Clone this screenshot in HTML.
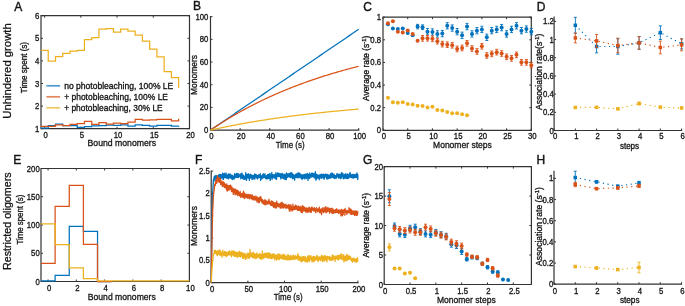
<!DOCTYPE html>
<html><head><meta charset="utf-8"><style>
html,body{margin:0;padding:0;background:#fff;}
svg{display:block;will-change:transform;}
text{font-family:"Liberation Sans", sans-serif;fill:#141414;stroke:#141414;stroke-width:0.32px;}
</style></head><body>
<svg width="685" height="306" viewBox="0 0 685 306">
<rect width="685" height="306" fill="#fff"/>
<text x="11.00" y="71.00" font-size="11.3" text-anchor="middle" style="stroke-width:0.28px" textLength="95.50" lengthAdjust="spacingAndGlyphs" transform="rotate(-90 11.00 71.00)">Unhindered growth</text>
<text x="11.00" y="221.20" font-size="11.3" text-anchor="middle" style="stroke-width:0.28px" textLength="97.50" lengthAdjust="spacingAndGlyphs" transform="rotate(-90 11.00 221.20)">Restricted oligomers</text>
<text x="14.20" y="10.50" font-size="12.0" text-anchor="start" style="stroke-width:0.4px">A</text>
<text x="192.90" y="9.60" font-size="12.0" text-anchor="start" style="stroke-width:0.4px">B</text>
<text x="363.20" y="10.50" font-size="12.0" text-anchor="start" style="stroke-width:0.4px">C</text>
<text x="536.70" y="10.50" font-size="12.0" text-anchor="start" style="stroke-width:0.4px">D</text>
<text x="13.20" y="164.00" font-size="12.0" text-anchor="start" style="stroke-width:0.4px">E</text>
<text x="195.00" y="164.00" font-size="12.0" text-anchor="start" style="stroke-width:0.4px">F</text>
<text x="362.90" y="164.00" font-size="12.0" text-anchor="start" style="stroke-width:0.4px">G</text>
<text x="536.50" y="164.00" font-size="12.0" text-anchor="start" style="stroke-width:0.4px">H</text>
<path d="M44.62 128.70v-2.0M44.62 15.70v2.0M80.84 128.70v-2.0M80.84 15.70v2.0M117.06 128.70v-2.0M117.06 15.70v2.0M153.28 128.70v-2.0M153.28 15.70v2.0M189.50 128.70v-2.0M189.50 15.70v2.0M41.00 128.70h2.0M189.50 128.70h-2.0M41.00 106.10h2.0M189.50 106.10h-2.0M41.00 83.50h2.0M189.50 83.50h-2.0M41.00 60.90h2.0M189.50 60.90h-2.0M41.00 38.30h2.0M189.50 38.30h-2.0M41.00 15.70h2.0M189.50 15.70h-2.0" fill="none" stroke="#333333" stroke-width="1"/>
<path d="M41.00 15.70V128.70H189.50V15.70H41.00" fill="none" stroke="#333333" stroke-width="1.2" stroke-linecap="square"/>
<path d="M41.00 128.01H48.24V125.51H55.49V124.20H62.73V125.71H69.98V125.71H77.22V127.31H84.46V126.61H91.71V125.84H98.95V125.51H106.20V125.21H113.44V125.39H120.68V124.81H127.93V126.07H135.17V124.81H142.41V125.39H149.66V126.00H156.90V125.39H164.15V125.39H171.39V126.20H178.63V125.84" fill="none" stroke="#0072BD" stroke-width="1.25"/>
<path d="M41.00 126.41H48.24V126.41H55.49V124.90H62.73V125.71H69.98V124.40H77.22V123.70H84.46V121.33H91.71V124.26H98.95V122.69H106.20V124.11H113.44V123.20H120.68V123.50H127.93V122.01H135.17V119.26H142.41V120.20H149.66V119.98H156.90V119.30H164.15V119.30H171.39V120.81H178.63V118.85" fill="none" stroke="#D95319" stroke-width="1.25"/>
<path d="M41.00 50.40H48.24V61.20H55.49V56.70H62.73V53.30H69.98V51.00H77.22V50.40H84.46V39.60H91.71V37.60H98.95V29.20H106.20V28.60H113.44V32.20H120.68V29.20H127.93V31.20H135.17V35.10H142.41V41.20H149.66V49.00H156.90V56.90H164.15V71.60H171.39V77.50H178.63V87.90" fill="none" stroke="#EDB120" stroke-width="1.25"/>
<text x="45.62" y="137.50" font-size="8.6" text-anchor="middle" textLength="4.30" lengthAdjust="spacingAndGlyphs">0</text>
<text x="81.84" y="137.50" font-size="8.6" text-anchor="middle" textLength="4.30" lengthAdjust="spacingAndGlyphs">5</text>
<text x="118.06" y="137.50" font-size="8.6" text-anchor="middle" textLength="8.61" lengthAdjust="spacingAndGlyphs">10</text>
<text x="154.28" y="137.50" font-size="8.6" text-anchor="middle" textLength="8.61" lengthAdjust="spacingAndGlyphs">15</text>
<text x="190.50" y="137.50" font-size="8.6" text-anchor="middle" textLength="8.61" lengthAdjust="spacingAndGlyphs">20</text>
<text x="39.30" y="131.75" font-size="8.6" text-anchor="end" textLength="4.30" lengthAdjust="spacingAndGlyphs">1</text>
<text x="39.30" y="109.15" font-size="8.6" text-anchor="end" textLength="4.30" lengthAdjust="spacingAndGlyphs">2</text>
<text x="39.30" y="86.55" font-size="8.6" text-anchor="end" textLength="4.30" lengthAdjust="spacingAndGlyphs">3</text>
<text x="39.30" y="63.95" font-size="8.6" text-anchor="end" textLength="4.30" lengthAdjust="spacingAndGlyphs">4</text>
<text x="39.30" y="41.35" font-size="8.6" text-anchor="end" textLength="4.30" lengthAdjust="spacingAndGlyphs">5</text>
<text x="39.30" y="18.75" font-size="8.6" text-anchor="end" textLength="4.30" lengthAdjust="spacingAndGlyphs">6</text>
<path d="M46.4 85.80H60.1" stroke="#0072BD" stroke-width="1.7" opacity="0.7"/>
<text x="64.20" y="89.10" font-size="9" text-anchor="start" textLength="109.10" lengthAdjust="spacingAndGlyphs">no photobleaching, 100% LE</text>
<path d="M46.4 96.80H60.1" stroke="#D95319" stroke-width="1.7" opacity="0.7"/>
<text x="64.20" y="100.10" font-size="9" text-anchor="start" textLength="103.80" lengthAdjust="spacingAndGlyphs">+ photobleaching, 100% LE</text>
<path d="M46.4 107.80H60.1" stroke="#EDB120" stroke-width="1.7" opacity="0.7"/>
<text x="64.20" y="111.10" font-size="9" text-anchor="start" textLength="98.50" lengthAdjust="spacingAndGlyphs">+ photobleaching, 30% LE</text>
<text x="121.80" y="145.80" font-size="9.9" text-anchor="middle" textLength="68.60" lengthAdjust="spacingAndGlyphs">Bound monomers</text>
<text x="26.70" y="67.60" font-size="9.2" text-anchor="middle" textLength="51.30" lengthAdjust="spacingAndGlyphs" transform="rotate(-90 26.70 67.60)">Time spent (s)</text>
<path d="M210.50 130.10v-2.0M240.14 130.10v-2.0M269.78 130.10v-2.0M299.42 130.10v-2.0M329.06 130.10v-2.0M358.70 130.10v-2.0M210.50 130.10h2.0M210.50 107.42h2.0M210.50 84.74h2.0M210.50 62.06h2.0M210.50 39.38h2.0M210.50 16.70h2.0" fill="none" stroke="#333333" stroke-width="1"/>
<path d="M210.50 16.70V130.10H358.70" fill="none" stroke="#333333" stroke-width="1.2" stroke-linecap="square"/>
<polyline points="210.50,130.10 211.24,129.59 211.99,129.09 212.73,128.58 213.48,128.07 214.22,127.57 214.97,127.06 215.71,126.55 216.46,126.05 217.20,125.54 217.95,125.03 218.69,124.53 219.44,124.02 220.18,123.51 220.93,123.01 221.67,122.50 222.42,121.99 223.16,121.49 223.91,120.98 224.65,120.47 225.39,119.97 226.14,119.46 226.88,118.95 227.63,118.45 228.37,117.94 229.12,117.44 229.86,116.93 230.61,116.42 231.35,115.92 232.10,115.41 232.84,114.90 233.59,114.40 234.33,113.89 235.08,113.38 235.82,112.88 236.57,112.37 237.31,111.86 238.05,111.36 238.80,110.85 239.54,110.34 240.29,109.84 241.03,109.33 241.78,108.82 242.52,108.32 243.27,107.81 244.01,107.30 244.76,106.80 245.50,106.29 246.25,105.78 246.99,105.28 247.74,104.77 248.48,104.26 249.23,103.76 249.97,103.25 250.72,102.74 251.46,102.24 252.20,101.73 252.95,101.22 253.69,100.72 254.44,100.21 255.18,99.70 255.93,99.20 256.67,98.69 257.42,98.18 258.16,97.68 258.91,97.17 259.65,96.66 260.40,96.16 261.14,95.65 261.89,95.14 262.63,94.64 263.38,94.13 264.12,93.63 264.86,93.12 265.61,92.61 266.35,92.11 267.10,91.60 267.84,91.09 268.59,90.59 269.33,90.08 270.08,89.57 270.82,89.07 271.57,88.56 272.31,88.05 273.06,87.55 273.80,87.04 274.55,86.53 275.29,86.03 276.04,85.52 276.78,85.01 277.53,84.51 278.27,84.00 279.01,83.49 279.76,82.99 280.50,82.48 281.25,81.97 281.99,81.47 282.74,80.96 283.48,80.45 284.23,79.95 284.97,79.44 285.72,78.93 286.46,78.43 287.21,77.92 287.95,77.41 288.70,76.91 289.44,76.40 290.19,75.89 290.93,75.39 291.67,74.88 292.42,74.37 293.16,73.87 293.91,73.36 294.65,72.85 295.40,72.35 296.14,71.84 296.89,71.33 297.63,70.83 298.38,70.32 299.12,69.82 299.87,69.31 300.61,68.80 301.36,68.30 302.10,67.79 302.85,67.28 303.59,66.78 304.34,66.27 305.08,65.76 305.82,65.26 306.57,64.75 307.31,64.24 308.06,63.74 308.80,63.23 309.55,62.72 310.29,62.22 311.04,61.71 311.78,61.20 312.53,60.70 313.27,60.19 314.02,59.68 314.76,59.18 315.51,58.67 316.25,58.16 317.00,57.66 317.74,57.15 318.48,56.64 319.23,56.14 319.97,55.63 320.72,55.12 321.46,54.62 322.21,54.11 322.95,53.60 323.70,53.10 324.44,52.59 325.19,52.08 325.93,51.58 326.68,51.07 327.42,50.56 328.17,50.06 328.91,49.55 329.66,49.04 330.40,48.54 331.15,48.03 331.89,47.52 332.63,47.02 333.38,46.51 334.12,46.01 334.87,45.50 335.61,44.99 336.36,44.49 337.10,43.98 337.85,43.47 338.59,42.97 339.34,42.46 340.08,41.95 340.83,41.45 341.57,40.94 342.32,40.43 343.06,39.93 343.81,39.42 344.55,38.91 345.29,38.41 346.04,37.90 346.78,37.39 347.53,36.89 348.27,36.38 349.02,35.87 349.76,35.37 350.51,34.86 351.25,34.35 352.00,33.85 352.74,33.34 353.49,32.83 354.23,32.33 354.98,31.82 355.72,31.31 356.47,30.81 357.21,30.30 357.96,29.79 358.70,29.29" fill="none" stroke="#0072BD" stroke-width="1.25" stroke-linejoin="round" />
<polyline points="210.50,130.10 211.24,129.59 211.99,129.09 212.73,128.59 213.48,128.09 214.22,127.60 214.97,127.10 215.71,126.61 216.46,126.12 217.20,125.64 217.95,125.15 218.69,124.67 219.44,124.19 220.18,123.72 220.93,123.24 221.67,122.77 222.42,122.30 223.16,121.84 223.91,121.37 224.65,120.91 225.39,120.45 226.14,119.99 226.88,119.54 227.63,119.08 228.37,118.63 229.12,118.18 229.86,117.74 230.61,117.29 231.35,116.85 232.10,116.41 232.84,115.98 233.59,115.54 234.33,115.11 235.08,114.68 235.82,114.25 236.57,113.82 237.31,113.40 238.05,112.98 238.80,112.56 239.54,112.14 240.29,111.72 241.03,111.31 241.78,110.90 242.52,110.49 243.27,110.08 244.01,109.67 244.76,109.27 245.50,108.87 246.25,108.47 246.99,108.07 247.74,107.68 248.48,107.28 249.23,106.89 249.97,106.50 250.72,106.11 251.46,105.73 252.20,105.34 252.95,104.96 253.69,104.58 254.44,104.21 255.18,103.83 255.93,103.45 256.67,103.08 257.42,102.71 258.16,102.34 258.91,101.98 259.65,101.61 260.40,101.25 261.14,100.89 261.89,100.53 262.63,100.17 263.38,99.81 264.12,99.46 264.86,99.11 265.61,98.76 266.35,98.41 267.10,98.06 267.84,97.72 268.59,97.37 269.33,97.03 270.08,96.69 270.82,96.35 271.57,96.02 272.31,95.68 273.06,95.35 273.80,95.02 274.55,94.69 275.29,94.36 276.04,94.03 276.78,93.71 277.53,93.38 278.27,93.06 279.01,92.74 279.76,92.42 280.50,92.10 281.25,91.79 281.99,91.47 282.74,91.16 283.48,90.85 284.23,90.54 284.97,90.24 285.72,89.93 286.46,89.62 287.21,89.32 287.95,89.02 288.70,88.72 289.44,88.42 290.19,88.12 290.93,87.83 291.67,87.54 292.42,87.24 293.16,86.95 293.91,86.66 294.65,86.37 295.40,86.09 296.14,85.80 296.89,85.52 297.63,85.24 298.38,84.95 299.12,84.67 299.87,84.40 300.61,84.12 301.36,83.84 302.10,83.57 302.85,83.30 303.59,83.03 304.34,82.76 305.08,82.49 305.82,82.22 306.57,81.95 307.31,81.69 308.06,81.43 308.80,81.17 309.55,80.90 310.29,80.65 311.04,80.39 311.78,80.13 312.53,79.87 313.27,79.62 314.02,79.37 314.76,79.12 315.51,78.87 316.25,78.62 317.00,78.37 317.74,78.12 318.48,77.88 319.23,77.63 319.97,77.39 320.72,77.15 321.46,76.91 322.21,76.67 322.95,76.43 323.70,76.19 324.44,75.96 325.19,75.72 325.93,75.49 326.68,75.26 327.42,75.03 328.17,74.80 328.91,74.57 329.66,74.34 330.40,74.11 331.15,73.89 331.89,73.67 332.63,73.44 333.38,73.22 334.12,73.00 334.87,72.78 335.61,72.56 336.36,72.34 337.10,72.13 337.85,71.91 338.59,71.70 339.34,71.48 340.08,71.27 340.83,71.06 341.57,70.85 342.32,70.64 343.06,70.43 343.81,70.23 344.55,70.02 345.29,69.82 346.04,69.61 346.78,69.41 347.53,69.21 348.27,69.01 349.02,68.81 349.76,68.61 350.51,68.41 351.25,68.22 352.00,68.02 352.74,67.83 353.49,67.63 354.23,67.44 354.98,67.25 355.72,67.06 356.47,66.87 357.21,66.68 357.96,66.49 358.70,66.30" fill="none" stroke="#D95319" stroke-width="1.25" stroke-linejoin="round" />
<polyline points="210.50,130.10 211.24,129.93 211.99,129.77 212.73,129.60 213.48,129.44 214.22,129.28 214.97,129.11 215.71,128.95 216.46,128.79 217.20,128.63 217.95,128.47 218.69,128.31 219.44,128.16 220.18,128.00 220.93,127.84 221.67,127.69 222.42,127.53 223.16,127.38 223.91,127.23 224.65,127.07 225.39,126.92 226.14,126.77 226.88,126.62 227.63,126.47 228.37,126.33 229.12,126.18 229.86,126.03 230.61,125.88 231.35,125.74 232.10,125.59 232.84,125.45 233.59,125.31 234.33,125.16 235.08,125.02 235.82,124.88 236.57,124.74 237.31,124.60 238.05,124.46 238.80,124.32 239.54,124.19 240.29,124.05 241.03,123.91 241.78,123.78 242.52,123.64 243.27,123.51 244.01,123.38 244.76,123.24 245.50,123.11 246.25,122.98 246.99,122.85 247.74,122.72 248.48,122.59 249.23,122.46 249.97,122.33 250.72,122.20 251.46,122.08 252.20,121.95 252.95,121.82 253.69,121.70 254.44,121.58 255.18,121.45 255.93,121.33 256.67,121.21 257.42,121.08 258.16,120.96 258.91,120.84 259.65,120.72 260.40,120.60 261.14,120.48 261.89,120.36 262.63,120.25 263.38,120.13 264.12,120.01 264.86,119.90 265.61,119.78 266.35,119.67 267.10,119.55 267.84,119.44 268.59,119.33 269.33,119.21 270.08,119.10 270.82,118.99 271.57,118.88 272.31,118.77 273.06,118.66 273.80,118.55 274.55,118.44 275.29,118.33 276.04,118.23 276.78,118.12 277.53,118.01 278.27,117.91 279.01,117.80 279.76,117.70 280.50,117.59 281.25,117.49 281.99,117.38 282.74,117.28 283.48,117.18 284.23,117.08 284.97,116.98 285.72,116.88 286.46,116.77 287.21,116.68 287.95,116.58 288.70,116.48 289.44,116.38 290.19,116.28 290.93,116.18 291.67,116.09 292.42,115.99 293.16,115.89 293.91,115.80 294.65,115.70 295.40,115.61 296.14,115.52 296.89,115.42 297.63,115.33 298.38,115.24 299.12,115.15 299.87,115.05 300.61,114.96 301.36,114.87 302.10,114.78 302.85,114.69 303.59,114.60 304.34,114.51 305.08,114.43 305.82,114.34 306.57,114.25 307.31,114.16 308.06,114.08 308.80,113.99 309.55,113.90 310.29,113.82 311.04,113.73 311.78,113.65 312.53,113.57 313.27,113.48 314.02,113.40 314.76,113.32 315.51,113.23 316.25,113.15 317.00,113.07 317.74,112.99 318.48,112.91 319.23,112.83 319.97,112.75 320.72,112.67 321.46,112.59 322.21,112.51 322.95,112.43 323.70,112.35 324.44,112.28 325.19,112.20 325.93,112.12 326.68,112.05 327.42,111.97 328.17,111.89 328.91,111.82 329.66,111.74 330.40,111.67 331.15,111.59 331.89,111.52 332.63,111.45 333.38,111.37 334.12,111.30 334.87,111.23 335.61,111.16 336.36,111.09 337.10,111.01 337.85,110.94 338.59,110.87 339.34,110.80 340.08,110.73 340.83,110.66 341.57,110.59 342.32,110.53 343.06,110.46 343.81,110.39 344.55,110.32 345.29,110.25 346.04,110.19 346.78,110.12 347.53,110.05 348.27,109.99 349.02,109.92 349.76,109.86 350.51,109.79 351.25,109.73 352.00,109.66 352.74,109.60 353.49,109.53 354.23,109.47 354.98,109.41 355.72,109.35 356.47,109.28 357.21,109.22 357.96,109.16 358.70,109.10" fill="none" stroke="#EDB120" stroke-width="1.25" stroke-linejoin="round" />
<text x="211.50" y="138.50" font-size="8.6" text-anchor="middle" textLength="4.30" lengthAdjust="spacingAndGlyphs">0</text>
<text x="241.14" y="138.50" font-size="8.6" text-anchor="middle" textLength="8.61" lengthAdjust="spacingAndGlyphs">20</text>
<text x="270.78" y="138.50" font-size="8.6" text-anchor="middle" textLength="8.61" lengthAdjust="spacingAndGlyphs">40</text>
<text x="300.42" y="138.50" font-size="8.6" text-anchor="middle" textLength="8.61" lengthAdjust="spacingAndGlyphs">60</text>
<text x="330.06" y="138.50" font-size="8.6" text-anchor="middle" textLength="8.61" lengthAdjust="spacingAndGlyphs">80</text>
<text x="359.70" y="138.50" font-size="8.6" text-anchor="middle" textLength="12.91" lengthAdjust="spacingAndGlyphs">100</text>
<text x="208.30" y="133.15" font-size="8.6" text-anchor="end" textLength="4.30" lengthAdjust="spacingAndGlyphs">0</text>
<text x="208.30" y="110.47" font-size="8.6" text-anchor="end" textLength="8.61" lengthAdjust="spacingAndGlyphs">20</text>
<text x="208.30" y="87.79" font-size="8.6" text-anchor="end" textLength="8.61" lengthAdjust="spacingAndGlyphs">40</text>
<text x="208.30" y="65.11" font-size="8.6" text-anchor="end" textLength="8.61" lengthAdjust="spacingAndGlyphs">60</text>
<text x="208.30" y="42.43" font-size="8.6" text-anchor="end" textLength="8.61" lengthAdjust="spacingAndGlyphs">80</text>
<text x="208.30" y="19.75" font-size="8.6" text-anchor="end" textLength="12.91" lengthAdjust="spacingAndGlyphs">100</text>
<text x="290.20" y="147.90" font-size="9.9" text-anchor="middle" textLength="29.00" lengthAdjust="spacingAndGlyphs">Time (s)</text>
<text x="197.40" y="75.00" font-size="9.2" text-anchor="middle" textLength="40.00" lengthAdjust="spacingAndGlyphs" transform="rotate(-90 197.40 75.00)">Monomers</text>
<path d="M383.00 130.30v-2.0M383.00 17.20v2.0M407.72 130.30v-2.0M407.72 17.20v2.0M432.43 130.30v-2.0M432.43 17.20v2.0M457.15 130.30v-2.0M457.15 17.20v2.0M481.87 130.30v-2.0M481.87 17.20v2.0M506.58 130.30v-2.0M506.58 17.20v2.0M531.30 130.30v-2.0M531.30 17.20v2.0M383.00 130.30h2.0M531.30 130.30h-2.0M383.00 107.68h2.0M531.30 107.68h-2.0M383.00 85.06h2.0M531.30 85.06h-2.0M383.00 62.44h2.0M531.30 62.44h-2.0M383.00 39.82h2.0M531.30 39.82h-2.0M383.00 17.20h2.0M531.30 17.20h-2.0" fill="none" stroke="#333333" stroke-width="1"/>
<path d="M383.00 17.20V130.30H531.30V17.20H383.00" fill="none" stroke="#333333" stroke-width="1.2" stroke-linecap="square"/>
<path d="M417.60 24.33V28.85M416.10 24.33h3.0M416.10 28.85h3.0M422.55 24.89V29.41M421.05 24.89h3.0M421.05 29.41h3.0M427.49 28.51V34.84M425.99 28.51h3.0M425.99 34.84h3.0M432.43 28.85V35.18M430.93 28.85h3.0M430.93 35.18h3.0M437.38 30.77V37.11M435.88 30.77h3.0M435.88 37.11h3.0M442.32 30.43V36.77M440.82 30.43h3.0M440.82 36.77h3.0M447.26 22.63V28.96M445.76 22.63h3.0M445.76 28.96h3.0M452.21 24.89V31.22M450.71 24.89h3.0M450.71 31.22h3.0M457.15 28.51V34.84M455.65 28.51h3.0M455.65 34.84h3.0M462.09 32.13V38.46M460.59 32.13h3.0M460.59 38.46h3.0M467.04 23.42V29.75M465.54 23.42h3.0M465.54 29.75h3.0M471.98 30.77V37.11M470.48 30.77h3.0M470.48 37.11h3.0M476.92 27.49V33.83M475.42 27.49h3.0M475.42 33.83h3.0M481.87 26.25V32.58M480.37 26.25h3.0M480.37 32.58h3.0M486.81 34.17V40.50M485.31 34.17h3.0M485.31 40.50h3.0M491.75 27.49V33.83M490.25 27.49h3.0M490.25 33.83h3.0M496.70 26.25V32.58M495.20 26.25h3.0M495.20 32.58h3.0M501.64 24.44V30.77M500.14 24.44h3.0M500.14 30.77h3.0M506.58 30.77V37.11M505.08 30.77h3.0M505.08 37.11h3.0M511.53 26.25V32.58M510.03 26.25h3.0M510.03 32.58h3.0M516.47 22.63V28.96M514.97 22.63h3.0M514.97 28.96h3.0M521.41 27.49V33.83M519.91 27.49h3.0M519.91 33.83h3.0M526.36 25.91V32.24M524.86 25.91h3.0M524.86 32.24h3.0M531.30 28.51V34.84M529.80 28.51h3.0M529.80 34.84h3.0" fill="none" stroke="#0072BD" stroke-width="0.9"/>
<circle cx="387.94" cy="24.21" r="2.0" fill="#0072BD"/>
<circle cx="392.89" cy="28.51" r="2.0" fill="#0072BD"/>
<circle cx="397.83" cy="29.08" r="2.0" fill="#0072BD"/>
<circle cx="402.77" cy="28.51" r="2.0" fill="#0072BD"/>
<circle cx="407.72" cy="32.92" r="2.0" fill="#0072BD"/>
<circle cx="412.66" cy="35.30" r="2.0" fill="#0072BD"/>
<circle cx="417.60" cy="26.59" r="2.0" fill="#0072BD"/>
<circle cx="422.55" cy="27.15" r="2.0" fill="#0072BD"/>
<circle cx="427.49" cy="31.68" r="2.0" fill="#0072BD"/>
<circle cx="432.43" cy="32.02" r="2.0" fill="#0072BD"/>
<circle cx="437.38" cy="33.94" r="2.0" fill="#0072BD"/>
<circle cx="442.32" cy="33.60" r="2.0" fill="#0072BD"/>
<circle cx="447.26" cy="25.80" r="2.0" fill="#0072BD"/>
<circle cx="452.21" cy="28.06" r="2.0" fill="#0072BD"/>
<circle cx="457.15" cy="31.68" r="2.0" fill="#0072BD"/>
<circle cx="462.09" cy="35.30" r="2.0" fill="#0072BD"/>
<circle cx="467.04" cy="26.59" r="2.0" fill="#0072BD"/>
<circle cx="471.98" cy="33.94" r="2.0" fill="#0072BD"/>
<circle cx="476.92" cy="30.66" r="2.0" fill="#0072BD"/>
<circle cx="481.87" cy="29.41" r="2.0" fill="#0072BD"/>
<circle cx="486.81" cy="37.33" r="2.0" fill="#0072BD"/>
<circle cx="491.75" cy="30.66" r="2.0" fill="#0072BD"/>
<circle cx="496.70" cy="29.41" r="2.0" fill="#0072BD"/>
<circle cx="501.64" cy="27.61" r="2.0" fill="#0072BD"/>
<circle cx="506.58" cy="33.94" r="2.0" fill="#0072BD"/>
<circle cx="511.53" cy="29.41" r="2.0" fill="#0072BD"/>
<circle cx="516.47" cy="25.80" r="2.0" fill="#0072BD"/>
<circle cx="521.41" cy="30.66" r="2.0" fill="#0072BD"/>
<circle cx="526.36" cy="29.08" r="2.0" fill="#0072BD"/>
<circle cx="531.30" cy="31.68" r="2.0" fill="#0072BD"/>
<path d="M422.55 35.52V41.18M421.05 35.52h3.0M421.05 41.18h3.0M427.49 35.41V41.06M425.99 35.41h3.0M425.99 41.06h3.0M432.43 35.97V41.63M430.93 35.97h3.0M430.93 41.63h3.0M437.38 38.35V44.00M435.88 38.35h3.0M435.88 44.00h3.0M442.32 41.29V46.95M440.82 41.29h3.0M440.82 46.95h3.0M447.26 41.86V47.51M445.76 41.86h3.0M445.76 47.51h3.0M452.21 42.42V48.08M450.71 42.42h3.0M450.71 48.08h3.0M457.15 46.15V51.81M455.65 46.15h3.0M455.65 51.81h3.0M462.09 45.14V50.79M460.59 45.14h3.0M460.59 50.79h3.0M467.04 40.50V46.15M465.54 40.50h3.0M465.54 46.15h3.0M471.98 45.70V51.36M470.48 45.70h3.0M470.48 51.36h3.0M476.92 48.64V54.30M475.42 48.64h3.0M475.42 54.30h3.0M481.87 43.44V49.09M480.37 43.44h3.0M480.37 49.09h3.0M486.81 52.60V58.26M485.31 52.60h3.0M485.31 58.26h3.0M491.75 51.02V56.67M490.25 51.02h3.0M490.25 56.67h3.0M496.70 49.32V54.98M495.20 49.32h3.0M495.20 54.98h3.0M501.64 50.68V56.33M500.14 50.68h3.0M500.14 56.33h3.0M506.58 53.96V59.61M505.08 53.96h3.0M505.08 59.61h3.0M511.53 55.54V61.20M510.03 55.54h3.0M510.03 61.20h3.0M516.47 52.03V57.69M514.97 52.03h3.0M514.97 57.69h3.0M521.41 59.50V65.15M519.91 59.50h3.0M519.91 65.15h3.0M526.36 59.50V65.15M524.86 59.50h3.0M524.86 65.15h3.0M531.30 62.33V67.98M529.80 62.33h3.0M529.80 67.98h3.0" fill="none" stroke="#D95319" stroke-width="0.9"/>
<circle cx="387.94" cy="23.19" r="2.0" fill="#D95319"/>
<circle cx="392.89" cy="21.27" r="2.0" fill="#D95319"/>
<circle cx="397.83" cy="31.68" r="2.0" fill="#D95319"/>
<circle cx="402.77" cy="32.47" r="2.0" fill="#D95319"/>
<circle cx="407.72" cy="30.43" r="2.0" fill="#D95319"/>
<circle cx="412.66" cy="33.94" r="2.0" fill="#D95319"/>
<circle cx="417.60" cy="40.84" r="2.0" fill="#D95319"/>
<circle cx="422.55" cy="38.35" r="2.0" fill="#D95319"/>
<circle cx="427.49" cy="38.24" r="2.0" fill="#D95319"/>
<circle cx="432.43" cy="38.80" r="2.0" fill="#D95319"/>
<circle cx="437.38" cy="41.18" r="2.0" fill="#D95319"/>
<circle cx="442.32" cy="44.12" r="2.0" fill="#D95319"/>
<circle cx="447.26" cy="44.68" r="2.0" fill="#D95319"/>
<circle cx="452.21" cy="45.25" r="2.0" fill="#D95319"/>
<circle cx="457.15" cy="48.98" r="2.0" fill="#D95319"/>
<circle cx="462.09" cy="47.96" r="2.0" fill="#D95319"/>
<circle cx="467.04" cy="43.33" r="2.0" fill="#D95319"/>
<circle cx="471.98" cy="48.53" r="2.0" fill="#D95319"/>
<circle cx="476.92" cy="51.47" r="2.0" fill="#D95319"/>
<circle cx="481.87" cy="46.27" r="2.0" fill="#D95319"/>
<circle cx="486.81" cy="55.43" r="2.0" fill="#D95319"/>
<circle cx="491.75" cy="53.84" r="2.0" fill="#D95319"/>
<circle cx="496.70" cy="52.15" r="2.0" fill="#D95319"/>
<circle cx="501.64" cy="53.51" r="2.0" fill="#D95319"/>
<circle cx="506.58" cy="56.78" r="2.0" fill="#D95319"/>
<circle cx="511.53" cy="58.37" r="2.0" fill="#D95319"/>
<circle cx="516.47" cy="54.86" r="2.0" fill="#D95319"/>
<circle cx="521.41" cy="62.33" r="2.0" fill="#D95319"/>
<circle cx="526.36" cy="62.33" r="2.0" fill="#D95319"/>
<circle cx="531.30" cy="65.15" r="2.0" fill="#D95319"/>
<circle cx="387.94" cy="97.84" r="2.0" fill="#EDB120"/>
<circle cx="392.89" cy="102.36" r="2.0" fill="#EDB120"/>
<circle cx="397.83" cy="102.70" r="2.0" fill="#EDB120"/>
<circle cx="402.77" cy="102.14" r="2.0" fill="#EDB120"/>
<circle cx="407.72" cy="103.95" r="2.0" fill="#EDB120"/>
<circle cx="412.66" cy="104.40" r="2.0" fill="#EDB120"/>
<circle cx="417.60" cy="105.87" r="2.0" fill="#EDB120"/>
<circle cx="422.55" cy="105.98" r="2.0" fill="#EDB120"/>
<circle cx="427.49" cy="107.57" r="2.0" fill="#EDB120"/>
<circle cx="432.43" cy="106.66" r="2.0" fill="#EDB120"/>
<circle cx="437.38" cy="110.06" r="2.0" fill="#EDB120"/>
<circle cx="442.32" cy="110.39" r="2.0" fill="#EDB120"/>
<circle cx="447.26" cy="112.09" r="2.0" fill="#EDB120"/>
<circle cx="452.21" cy="113.22" r="2.0" fill="#EDB120"/>
<circle cx="457.15" cy="113.22" r="2.0" fill="#EDB120"/>
<circle cx="462.09" cy="114.13" r="2.0" fill="#EDB120"/>
<circle cx="467.04" cy="115.26" r="2.0" fill="#EDB120"/>
<text x="384.00" y="139.20" font-size="8.6" text-anchor="middle" textLength="4.30" lengthAdjust="spacingAndGlyphs">0</text>
<text x="408.72" y="139.20" font-size="8.6" text-anchor="middle" textLength="4.30" lengthAdjust="spacingAndGlyphs">5</text>
<text x="433.43" y="139.20" font-size="8.6" text-anchor="middle" textLength="8.61" lengthAdjust="spacingAndGlyphs">10</text>
<text x="458.15" y="139.20" font-size="8.6" text-anchor="middle" textLength="8.61" lengthAdjust="spacingAndGlyphs">15</text>
<text x="482.87" y="139.20" font-size="8.6" text-anchor="middle" textLength="8.61" lengthAdjust="spacingAndGlyphs">20</text>
<text x="507.58" y="139.20" font-size="8.6" text-anchor="middle" textLength="8.61" lengthAdjust="spacingAndGlyphs">25</text>
<text x="532.30" y="139.20" font-size="8.6" text-anchor="middle" textLength="8.61" lengthAdjust="spacingAndGlyphs">30</text>
<text x="381.10" y="133.35" font-size="8.6" text-anchor="end" textLength="4.30" lengthAdjust="spacingAndGlyphs">0</text>
<text x="381.10" y="110.73" font-size="8.6" text-anchor="end" textLength="10.76" lengthAdjust="spacingAndGlyphs">0.2</text>
<text x="381.10" y="88.11" font-size="8.6" text-anchor="end" textLength="10.76" lengthAdjust="spacingAndGlyphs">0.4</text>
<text x="381.10" y="65.49" font-size="8.6" text-anchor="end" textLength="10.76" lengthAdjust="spacingAndGlyphs">0.6</text>
<text x="381.10" y="42.87" font-size="8.6" text-anchor="end" textLength="10.76" lengthAdjust="spacingAndGlyphs">0.8</text>
<text x="381.10" y="20.25" font-size="8.6" text-anchor="end" textLength="4.30" lengthAdjust="spacingAndGlyphs">1</text>
<text x="462.40" y="147.80" font-size="9.9" text-anchor="middle" textLength="58.70" lengthAdjust="spacingAndGlyphs">Monomer steps</text>
<text x="369.10" y="68.30" font-size="8.4" text-anchor="middle" transform="rotate(-90 369.10 68.30)">Average rate (s<tspan dy="-3.2" font-size="6">-1</tspan><tspan dy="3.2">)</tspan></text>
<path d="M554.10 130.50v-2.0M575.35 130.50v-2.0M596.60 130.50v-2.0M617.85 130.50v-2.0M639.10 130.50v-2.0M660.35 130.50v-2.0M681.60 130.50v-2.0M554.10 130.50h2.0M554.10 112.32h2.0M554.10 94.13h2.0M554.10 75.95h2.0M554.10 57.77h2.0M554.10 39.58h2.0M554.10 21.40h2.0" fill="none" stroke="#333333" stroke-width="1"/>
<path d="M554.10 21.40V130.50H681.60" fill="none" stroke="#333333" stroke-width="1.2" stroke-linecap="square"/>
<polyline points="575.35,25.31 596.60,46.49 617.85,46.49 639.10,42.86 660.35,32.67 681.60,43.86" fill="none" stroke="#0072BD" stroke-width="1.2" stroke-linejoin="round" stroke-dasharray="1.2 3.5"/>
<polyline points="575.35,37.95 596.60,40.95 617.85,45.49 639.10,42.86 660.35,47.49 681.60,44.86" fill="none" stroke="#D95319" stroke-width="1.2" stroke-linejoin="round" stroke-dasharray="1.2 3.5"/>
<polyline points="575.35,107.50 596.60,107.32 617.85,108.86 639.10,103.50 660.35,107.13 681.60,107.95" fill="none" stroke="#EDB120" stroke-width="1.2" stroke-linejoin="round" stroke-dasharray="1.2 3.5"/>
<path d="M575.35 17.31V33.31M573.85 17.31h3.0M573.85 33.31h3.0M596.60 40.13V52.86M595.10 40.13h3.0M595.10 52.86h3.0M617.85 38.77V54.22M616.35 38.77h3.0M616.35 54.22h3.0M639.10 36.49V49.22M637.60 36.49h3.0M637.60 49.22h3.0M660.35 25.85V39.49M658.85 25.85h3.0M658.85 39.49h3.0M681.60 38.86V48.86M680.10 38.86h3.0M680.10 48.86h3.0" fill="none" stroke="#0072BD" stroke-width="0.9"/>
<rect x="573.60" y="23.56" width="3.50" height="3.50" fill="#0072BD"/>
<rect x="594.85" y="44.74" width="3.50" height="3.50" fill="#0072BD"/>
<rect x="616.10" y="44.74" width="3.50" height="3.50" fill="#0072BD"/>
<rect x="637.35" y="41.11" width="3.50" height="3.50" fill="#0072BD"/>
<rect x="658.60" y="30.92" width="3.50" height="3.50" fill="#0072BD"/>
<rect x="679.85" y="42.11" width="3.50" height="3.50" fill="#0072BD"/>
<path d="M575.35 33.04V42.86M573.85 33.04h3.0M573.85 42.86h3.0M596.60 34.58V47.31M595.10 34.58h3.0M595.10 47.31h3.0M617.85 38.22V52.77M616.35 38.22h3.0M616.35 52.77h3.0M639.10 36.49V49.22M637.60 36.49h3.0M637.60 49.22h3.0M660.35 41.13V53.86M658.85 41.13h3.0M658.85 53.86h3.0M681.60 38.95V50.77M680.10 38.95h3.0M680.10 50.77h3.0" fill="none" stroke="#D95319" stroke-width="0.9"/>
<rect x="573.60" y="36.20" width="3.50" height="3.50" fill="#D95319"/>
<rect x="594.85" y="39.20" width="3.50" height="3.50" fill="#D95319"/>
<rect x="616.10" y="43.74" width="3.50" height="3.50" fill="#D95319"/>
<rect x="637.35" y="41.11" width="3.50" height="3.50" fill="#D95319"/>
<rect x="658.60" y="45.74" width="3.50" height="3.50" fill="#D95319"/>
<rect x="679.85" y="43.11" width="3.50" height="3.50" fill="#D95319"/>
<path d="M575.35 106.59V108.41M573.85 106.59h3.0M573.85 108.41h3.0M596.60 106.59V108.04M595.10 106.59h3.0M595.10 108.04h3.0M617.85 108.13V109.59M616.35 108.13h3.0M616.35 109.59h3.0M639.10 102.13V104.86M637.60 102.13h3.0M637.60 104.86h3.0M660.35 106.41V107.86M658.85 106.41h3.0M658.85 107.86h3.0M681.60 107.23V108.68M680.10 107.23h3.0M680.10 108.68h3.0" fill="none" stroke="#EDB120" stroke-width="0.9"/>
<rect x="573.60" y="105.75" width="3.50" height="3.50" fill="#EDB120"/>
<rect x="594.85" y="105.57" width="3.50" height="3.50" fill="#EDB120"/>
<rect x="616.10" y="107.11" width="3.50" height="3.50" fill="#EDB120"/>
<rect x="637.35" y="101.75" width="3.50" height="3.50" fill="#EDB120"/>
<rect x="658.60" y="105.38" width="3.50" height="3.50" fill="#EDB120"/>
<rect x="679.85" y="106.20" width="3.50" height="3.50" fill="#EDB120"/>
<path d="M554.10 16.49V21.40" stroke="#333333" stroke-width="1.2"/>
<text x="555.10" y="139.10" font-size="8.6" text-anchor="middle" textLength="4.30" lengthAdjust="spacingAndGlyphs">0</text>
<text x="576.35" y="139.10" font-size="8.6" text-anchor="middle" textLength="4.30" lengthAdjust="spacingAndGlyphs">1</text>
<text x="597.60" y="139.10" font-size="8.6" text-anchor="middle" textLength="4.30" lengthAdjust="spacingAndGlyphs">2</text>
<text x="618.85" y="139.10" font-size="8.6" text-anchor="middle" textLength="4.30" lengthAdjust="spacingAndGlyphs">3</text>
<text x="640.10" y="139.10" font-size="8.6" text-anchor="middle" textLength="4.30" lengthAdjust="spacingAndGlyphs">4</text>
<text x="661.35" y="139.10" font-size="8.6" text-anchor="middle" textLength="4.30" lengthAdjust="spacingAndGlyphs">5</text>
<text x="682.60" y="139.10" font-size="8.6" text-anchor="middle" textLength="4.30" lengthAdjust="spacingAndGlyphs">6</text>
<text x="553.70" y="133.55" font-size="8.6" text-anchor="end" textLength="4.30" lengthAdjust="spacingAndGlyphs">0</text>
<text x="553.70" y="115.37" font-size="8.6" text-anchor="end" textLength="10.76" lengthAdjust="spacingAndGlyphs">0.2</text>
<text x="553.70" y="97.18" font-size="8.6" text-anchor="end" textLength="10.76" lengthAdjust="spacingAndGlyphs">0.4</text>
<text x="553.70" y="79.00" font-size="8.6" text-anchor="end" textLength="10.76" lengthAdjust="spacingAndGlyphs">0.6</text>
<text x="553.70" y="60.82" font-size="8.6" text-anchor="end" textLength="10.76" lengthAdjust="spacingAndGlyphs">0.8</text>
<text x="553.70" y="42.63" font-size="8.6" text-anchor="end" textLength="4.30" lengthAdjust="spacingAndGlyphs">1</text>
<text x="553.70" y="24.45" font-size="8.6" text-anchor="end" textLength="10.76" lengthAdjust="spacingAndGlyphs">1.2</text>
<text x="629.50" y="148.50" font-size="9" text-anchor="middle" textLength="19.20" lengthAdjust="spacingAndGlyphs">steps</text>
<text x="541.80" y="71.80" font-size="8.6" text-anchor="middle" transform="rotate(-90 541.80 71.80)">Association rate(s<tspan dy="-3.2" font-size="6">-1</tspan><tspan dy="3.2">)</tspan></text>
<path d="M48.07 281.50v-2.0M48.07 168.50v2.0M76.33 281.50v-2.0M76.33 168.50v2.0M104.60 281.50v-2.0M104.60 168.50v2.0M132.87 281.50v-2.0M132.87 168.50v2.0M161.13 281.50v-2.0M161.13 168.50v2.0M189.40 281.50v-2.0M189.40 168.50v2.0M41.00 281.50h2.0M189.40 281.50h-2.0M41.00 253.25h2.0M189.40 253.25h-2.0M41.00 225.00h2.0M189.40 225.00h-2.0M41.00 196.75h2.0M189.40 196.75h-2.0M41.00 168.50h2.0M189.40 168.50h-2.0" fill="none" stroke="#333333" stroke-width="1"/>
<path d="M41.00 168.50V281.50H189.40V168.50H41.00" fill="none" stroke="#333333" stroke-width="1.2" stroke-linecap="square"/>
<path d="M41.00 280.94H55.13V275.40H69.27V226.30H83.40V231.33H97.53V281.50H111.67V281.50" fill="none" stroke="#0072BD" stroke-width="1.25"/>
<path d="M41.00 263.31H55.13V206.36H69.27V185.45H83.40V244.38H97.53V281.50H111.67V281.50" fill="none" stroke="#D95319" stroke-width="1.25"/>
<path d="M41.00 223.81H55.13V244.61H69.27V267.88H83.40V278.62H97.53V280.77H111.67V280.77H125.80V280.77H139.93V280.77H154.07V280.77H168.20V280.77H182.33V280.77H189.40V280.77" fill="none" stroke="#EDB120" stroke-width="1.25"/>
<text x="49.07" y="291.00" font-size="8.6" text-anchor="middle" textLength="4.30" lengthAdjust="spacingAndGlyphs">0</text>
<text x="77.33" y="291.00" font-size="8.6" text-anchor="middle" textLength="4.30" lengthAdjust="spacingAndGlyphs">2</text>
<text x="105.60" y="291.00" font-size="8.6" text-anchor="middle" textLength="4.30" lengthAdjust="spacingAndGlyphs">4</text>
<text x="133.87" y="291.00" font-size="8.6" text-anchor="middle" textLength="4.30" lengthAdjust="spacingAndGlyphs">6</text>
<text x="162.13" y="291.00" font-size="8.6" text-anchor="middle" textLength="4.30" lengthAdjust="spacingAndGlyphs">8</text>
<text x="190.40" y="291.00" font-size="8.6" text-anchor="middle" textLength="8.61" lengthAdjust="spacingAndGlyphs">10</text>
<text x="39.70" y="284.55" font-size="8.6" text-anchor="end" textLength="4.30" lengthAdjust="spacingAndGlyphs">0</text>
<text x="39.70" y="256.30" font-size="8.6" text-anchor="end" textLength="8.61" lengthAdjust="spacingAndGlyphs">50</text>
<text x="39.70" y="228.05" font-size="8.6" text-anchor="end" textLength="12.91" lengthAdjust="spacingAndGlyphs">100</text>
<text x="39.70" y="199.80" font-size="8.6" text-anchor="end" textLength="12.91" lengthAdjust="spacingAndGlyphs">150</text>
<text x="39.70" y="171.55" font-size="8.6" text-anchor="end" textLength="12.91" lengthAdjust="spacingAndGlyphs">200</text>
<text x="121.80" y="300.00" font-size="9.9" text-anchor="middle" textLength="68.00" lengthAdjust="spacingAndGlyphs">Bound monomers</text>
<text x="23.30" y="219.60" font-size="9.2" text-anchor="middle" textLength="50.00" lengthAdjust="spacingAndGlyphs" transform="rotate(-90 23.30 219.60)">Time spent (s)</text>
<path d="M211.20 282.60v-2.0M247.88 282.60v-2.0M284.55 282.60v-2.0M321.23 282.60v-2.0M357.90 282.60v-2.0M211.20 282.60h2.0M211.20 260.30h2.0M211.20 238.00h2.0M211.20 215.70h2.0M211.20 193.40h2.0M211.20 171.10h2.0" fill="none" stroke="#333333" stroke-width="1"/>
<path d="M211.20 171.10V282.60H357.90" fill="none" stroke="#333333" stroke-width="1.2" stroke-linecap="square"/>
<polyline points="211.20,282.14 211.30,275.72 211.41,267.29 211.51,259.90 211.62,252.19 211.72,244.47 211.83,237.30 211.93,229.18 212.04,224.25 212.14,218.02 212.25,213.75 212.35,208.81 212.46,203.70 212.56,198.70 212.67,193.74 212.77,191.63 212.88,189.44 212.98,187.72 213.09,185.49 213.19,183.86 213.30,181.84 213.40,179.56 213.51,179.52 213.61,179.49 213.72,179.08 213.82,178.63 213.93,177.99 214.03,178.25 214.14,178.16 214.24,176.43 214.35,178.77 214.45,177.81 214.56,176.28 214.66,176.73 214.77,177.33 214.87,176.51 214.97,181.13 215.08,175.93 215.18,178.35 215.29,179.29 215.39,176.65 215.50,176.33 215.60,177.83 215.71,178.71 215.81,177.26 215.92,177.40 216.02,175.41 216.13,176.35 216.23,177.04 216.34,175.92 216.44,177.51 216.55,178.43 216.65,176.55 216.76,176.48 216.86,177.46 216.97,177.99 217.07,176.49 217.18,179.94 217.28,175.76 217.39,176.08 217.49,179.00 217.60,176.95 217.70,178.46 217.81,176.33 217.91,180.21 218.02,178.65 218.12,176.31 218.23,175.85 218.33,180.22 218.44,177.87 218.54,176.88 218.65,177.94 218.75,174.97 218.85,178.66 218.96,176.58 219.06,178.56 219.17,175.13 219.27,176.97 219.38,177.22 219.48,179.04 219.59,174.41 219.69,175.71 219.80,175.66 219.90,175.10 220.01,176.18 220.11,177.48 220.22,177.48 220.32,177.22 220.43,174.33 220.53,178.11 220.64,177.01 220.74,176.67 220.85,175.90 220.95,175.26 221.06,177.78 221.16,178.59 221.27,176.40 221.37,174.73 221.48,175.40 221.58,176.23 221.69,176.74 221.79,176.06 221.90,176.80 222.00,175.46 222.11,177.61 222.21,176.48 222.32,176.70 222.42,175.87 222.52,176.09 222.63,173.05 222.73,174.48 222.84,174.33 222.94,179.14 223.05,176.70 223.15,177.01 223.26,175.62 223.36,179.36 223.47,174.66 223.57,174.95 223.68,178.19 223.78,177.42 223.89,177.02 223.99,175.96 224.10,175.17 224.20,173.15 224.31,176.41 224.41,175.20 224.52,175.83 224.62,173.56 224.73,174.91 224.83,174.12 224.94,177.58 225.04,176.53 225.15,177.47 225.25,174.44 225.36,175.46 225.46,176.99 225.57,177.17 225.67,175.82 225.78,177.18 225.88,177.48 225.99,175.47 226.09,172.94 226.20,176.59 226.30,176.97 226.40,177.72 226.51,178.11 226.61,175.58 226.72,175.20 226.82,176.54 226.93,176.01 227.03,175.99 227.14,176.13 227.24,178.44 227.35,176.94 227.45,176.28 227.56,177.26 227.66,176.56 227.77,176.89 227.87,175.96 227.98,174.51 228.08,176.19 228.19,175.96 228.29,174.95 228.40,175.44 228.50,173.91 228.61,178.93 228.71,174.95 228.82,176.60 228.92,175.94 229.03,175.17 229.13,174.88 229.24,175.16 229.34,176.35 229.45,174.27 229.55,176.83 229.66,176.84 229.76,175.67 229.87,177.54 229.97,174.06 230.07,175.49 230.18,174.18 230.28,177.26 230.39,177.84 230.49,177.12 230.60,176.20 230.70,177.90 230.81,176.59 230.91,177.22 231.02,174.95 231.12,177.96 231.23,175.65 231.33,178.11 231.44,178.69 231.54,178.26 231.65,178.97 231.75,177.07 231.86,175.72 231.96,176.93 232.07,176.33 232.17,175.10 232.28,176.97 232.38,177.06 232.49,177.58 232.59,179.47 232.70,176.35 232.80,179.52 232.91,176.32 233.01,177.18 233.12,175.84 233.22,177.50 233.33,178.44 233.43,176.57 233.54,177.54 233.64,176.89 233.75,176.73 233.85,177.12 233.95,176.78 234.06,177.50 234.16,176.46 234.27,178.89 234.37,176.05 234.48,177.20 234.58,174.13 234.69,173.74 234.79,177.84 234.90,174.89 235.00,175.17 235.11,176.42 235.21,174.25 235.32,175.63 235.42,177.53 235.53,175.48 235.63,175.31 235.74,174.83 235.84,176.62 235.95,174.30 236.05,174.54 236.16,177.08 236.26,176.56 236.37,175.74 236.47,176.26 236.58,173.34 236.68,175.47 236.79,177.47 236.89,177.19 237.00,176.43 237.10,173.59 237.21,176.77 237.31,176.65 237.42,176.23 237.52,176.82 237.62,173.63 237.73,177.37 237.83,175.47 237.94,176.11 238.04,175.40 238.15,177.60 238.25,173.76 238.36,176.29 238.46,176.14 238.57,177.41 238.67,177.20 238.78,175.70 238.88,174.99 238.99,175.19 239.09,174.77 239.20,175.42 239.30,176.25 239.41,175.04 239.51,175.24 239.62,176.27 239.72,175.16 239.83,174.73 239.93,175.88 240.04,176.61 240.14,175.20 240.25,173.80 240.35,176.68 240.46,176.59 240.56,176.70 240.67,174.69 240.77,178.79 240.88,175.69 240.98,174.70 241.09,177.27 241.19,174.02 241.29,175.00 241.40,176.20 241.50,175.29 241.61,177.86 241.71,176.50 241.82,173.13 241.92,176.93 242.03,173.16 242.13,175.83 242.24,174.42 242.34,175.64 242.45,178.59 242.55,176.57 242.66,175.69 242.76,177.74 242.87,177.95 242.97,175.72 243.08,177.11 243.18,178.77 243.29,177.46 243.39,175.65 243.50,177.69 243.60,175.83 243.71,175.09 243.81,177.33 243.92,178.98 244.02,179.32 244.13,177.60 244.23,176.38 244.34,177.17 244.44,176.93 244.55,178.17 244.65,177.06 244.76,178.17 244.86,177.96 244.97,179.21 245.07,179.40 245.17,177.88 245.28,178.55 245.38,178.03 245.49,175.77 245.59,176.74 245.70,172.70 245.80,174.99 245.91,177.24 246.01,175.40 246.12,175.98 246.22,177.25 246.33,174.82 246.43,177.39 246.54,180.47 246.64,175.21 246.75,177.04 246.85,174.29 246.96,177.23 247.06,177.89 247.17,174.28 247.27,177.96 247.38,176.30 247.48,174.64 247.59,176.46 247.69,176.70 247.80,176.59 247.90,175.61 248.01,177.94 248.11,176.05 248.22,176.04 248.32,173.72 248.43,177.29 248.53,178.13 248.64,175.65 248.74,177.09 248.84,176.30 248.95,176.67 249.05,175.16 249.16,177.58 249.26,176.96 249.37,180.39 249.47,177.96 249.58,174.58 249.68,177.67 249.79,177.52 249.89,178.26 250.00,175.90 250.10,176.42 250.21,178.19 250.31,175.90 250.42,176.44 250.52,175.66 250.63,177.47 250.73,174.17 250.84,176.19 250.94,176.84 251.05,177.43 251.15,176.97 251.26,175.85 251.36,177.34 251.47,175.64 251.57,176.34 251.68,175.05 251.78,175.65 251.89,176.90 251.99,179.49 252.10,176.55 252.20,176.05 252.31,176.79 252.41,176.45 252.52,177.75 252.62,177.50 252.72,178.24 252.83,175.41 252.93,176.98 253.04,177.78 253.14,179.06 253.25,177.66 253.35,175.66 253.46,176.77 253.56,178.45 253.67,175.51 253.77,175.32 253.88,175.72 253.98,175.92 254.09,175.14 254.19,175.77 254.30,175.65 254.40,177.82 254.51,174.69 254.61,176.36 254.72,173.94 254.82,179.20 254.93,175.68 255.03,175.26 255.14,176.99 255.24,175.99 255.35,175.57 255.45,175.64 255.56,177.21 255.66,176.62 255.77,175.07 255.87,174.51 255.98,175.98 256.08,176.10 256.19,175.84 256.29,174.69 256.39,177.53 256.50,177.91 256.60,176.00 256.71,177.91 256.81,177.32 256.92,176.45 257.02,175.98 257.13,177.81 257.23,175.37 257.34,178.90 257.44,175.87 257.55,178.56 257.65,177.98 257.76,175.57 257.86,177.01 257.97,177.44 258.07,176.92 258.18,175.54 258.28,176.31 258.39,176.13 258.49,175.00 258.60,177.52 258.70,177.02 258.81,176.91 258.91,174.73 259.02,175.21 259.12,174.92 259.23,176.76 259.33,176.90 259.44,175.55 259.54,177.08 259.65,175.34 259.75,175.73 259.86,177.52 259.96,176.80 260.07,176.77 260.17,174.54 260.27,173.54 260.38,177.14 260.48,177.02 260.59,180.25 260.69,176.83 260.80,177.09 260.90,178.16 261.01,175.89 261.11,179.04 261.22,177.11 261.32,176.73 261.43,178.79 261.53,176.26 261.64,175.76 261.74,178.89 261.85,178.79 261.95,176.04 262.06,176.79 262.16,178.55 262.27,177.34 262.37,177.04 262.48,176.88 262.58,175.51 262.69,176.26 262.79,174.10 262.90,174.63 263.00,175.42 263.11,174.81 263.21,174.23 263.32,175.22 263.42,177.75 263.53,175.04 263.63,175.95 263.74,173.85 263.84,176.07 263.94,175.54 264.05,175.90 264.15,174.05 264.26,176.28 264.36,177.05 264.47,176.23 264.57,177.32 264.68,176.42 264.78,176.67 264.89,176.29 264.99,173.99 265.10,177.21 265.20,176.50 265.31,176.88 265.41,176.06 265.52,178.58 265.62,178.10 265.73,177.26 265.83,176.48 265.94,177.23 266.04,177.94 266.15,178.75 266.25,176.98 266.36,175.67 266.46,177.21 266.57,177.38 266.67,177.02 266.78,178.69 266.88,177.82 266.99,177.55 267.09,176.80 267.20,177.09 267.30,178.85 267.41,175.60 267.51,174.71 267.62,177.29 267.72,176.41 267.82,176.63 267.93,175.67 268.03,178.64 268.14,174.42 268.24,177.12 268.35,174.61 268.45,176.33 268.56,176.95 268.66,176.66 268.77,175.15 268.87,177.40 268.98,176.55 269.08,176.66 269.19,178.37 269.29,173.83 269.40,174.72 269.50,175.47 269.61,173.92 269.71,177.11 269.82,175.75 269.92,173.31 270.03,174.49 270.13,178.79 270.24,180.44 270.34,177.48 270.45,174.64 270.55,176.80 270.66,176.34 270.76,175.29 270.87,177.33 270.97,176.13 271.08,175.21 271.18,175.50 271.29,175.43 271.39,176.73 271.49,175.35 271.60,176.79 271.70,174.43 271.81,172.51 271.91,177.39 272.02,179.36 272.12,177.01 272.23,176.13 272.33,174.76 272.44,174.92 272.54,177.51 272.65,177.36 272.75,174.81 272.86,177.90 272.96,174.97 273.07,176.73 273.17,175.43 273.28,175.60 273.38,175.40 273.49,175.18 273.59,177.57 273.70,175.90 273.80,176.37 273.91,175.83 274.01,174.71 274.12,176.60 274.22,177.18 274.33,177.05 274.43,176.69 274.54,175.21 274.64,177.30 274.75,174.78 274.85,176.01 274.96,176.89 275.06,178.38 275.16,176.18 275.27,175.53 275.37,178.74 275.48,174.67 275.58,173.96 275.69,175.76 275.79,175.47 275.90,172.70 276.00,174.39 276.11,177.24 276.21,176.02 276.32,176.31 276.42,176.33 276.53,179.39 276.63,175.17 276.74,177.03 276.84,175.75 276.95,175.99 277.05,174.61 277.16,176.06 277.26,176.71 277.37,174.73 277.47,173.26 277.58,175.51 277.68,173.11 277.79,174.58 277.89,175.73 278.00,172.93 278.10,176.13 278.21,173.54 278.31,175.54 278.42,174.27 278.52,176.44 278.63,175.99 278.73,173.48 278.84,174.51 278.94,174.65 279.04,175.39 279.15,174.19 279.25,176.61 279.36,176.43 279.46,175.14 279.57,176.39 279.67,176.21 279.78,175.54 279.88,175.68 279.99,175.81 280.09,173.45 280.20,174.39 280.30,174.19 280.41,175.99 280.51,176.49 280.62,177.76 280.72,176.36 280.83,178.88 280.93,176.94 281.04,175.20 281.14,174.24 281.25,174.90 281.35,177.57 281.46,176.03 281.56,177.77 281.67,175.70 281.77,177.06 281.88,175.82 281.98,173.37 282.09,175.72 282.19,173.58 282.30,176.36 282.40,176.85 282.51,174.58 282.61,174.01 282.71,176.92 282.82,176.13 282.92,178.26 283.03,176.63 283.13,175.24 283.24,176.80 283.34,177.40 283.45,178.53 283.55,176.04 283.66,175.46 283.76,175.76 283.87,176.34 283.97,178.36 284.08,174.05 284.18,176.41 284.29,176.53 284.39,175.26 284.50,179.08 284.60,176.31 284.71,176.59 284.81,175.98 284.92,174.71 285.02,176.00 285.13,179.24 285.23,177.27 285.34,176.46 285.44,176.44 285.55,178.12 285.65,178.57 285.76,175.64 285.86,175.63 285.97,176.12 286.07,178.04 286.18,173.39 286.28,179.71 286.39,176.16 286.49,172.98 286.59,175.72 286.70,175.14 286.80,177.12 286.91,173.57 287.01,177.29 287.12,175.19 287.22,175.43 287.33,176.69 287.43,174.09 287.54,177.25 287.64,176.40 287.75,175.22 287.85,175.67 287.96,174.56 288.06,173.97 288.17,175.68 288.27,175.99 288.38,175.78 288.48,175.59 288.59,174.17 288.69,175.89 288.80,175.35 288.90,175.89 289.01,176.90 289.11,174.32 289.22,176.69 289.32,175.44 289.43,173.36 289.53,176.68 289.64,175.11 289.74,177.22 289.85,175.63 289.95,177.07 290.06,175.48 290.16,175.70 290.26,174.68 290.37,172.99 290.47,174.90 290.58,174.53 290.68,175.53 290.79,175.75 290.89,176.45 291.00,177.80 291.10,175.21 291.21,172.92 291.31,174.51 291.42,175.54 291.52,172.57 291.63,175.57 291.73,176.11 291.84,177.21 291.94,176.91 292.05,176.03 292.15,173.22 292.26,176.21 292.36,177.39 292.47,176.92 292.57,176.51 292.68,178.74 292.78,176.17 292.89,175.38 292.99,175.79 293.10,175.41 293.20,177.79 293.31,178.25 293.41,174.32 293.52,174.81 293.62,178.38 293.73,176.09 293.83,176.38 293.94,175.54 294.04,176.04 294.14,177.09 294.25,176.13 294.35,176.07 294.46,176.22 294.56,178.59 294.67,180.19 294.77,176.96 294.88,178.07 294.98,175.45 295.09,174.86 295.19,175.69 295.30,176.58 295.40,176.12 295.51,174.52 295.61,177.32 295.72,175.15 295.82,175.31 295.93,175.90 296.03,174.25 296.14,176.85 296.24,174.72 296.35,177.31 296.45,177.04 296.56,177.37 296.66,175.48 296.77,177.19 296.87,175.94 296.98,177.59 297.08,174.37 297.19,173.33 297.29,175.31 297.40,173.70 297.50,175.25 297.61,173.13 297.71,175.89 297.81,177.79 297.92,173.38 298.02,175.42 298.13,176.61 298.23,175.95 298.34,177.03 298.44,175.21 298.55,176.35 298.65,173.01 298.76,174.25 298.86,177.21 298.97,176.92 299.07,175.72 299.18,177.69 299.28,175.17 299.39,175.19 299.49,175.91 299.60,175.60 299.70,174.54 299.81,173.22 299.91,173.30 300.02,175.06 300.12,173.93 300.23,176.01 300.33,174.67 300.44,176.74 300.54,174.76 300.65,177.55 300.75,177.46 300.86,176.09 300.96,175.48 301.07,178.24 301.17,177.38 301.28,176.30 301.38,176.19 301.48,177.70 301.59,176.59 301.69,177.09 301.80,174.72 301.90,175.83 302.01,178.30 302.11,179.57 302.22,176.24 302.32,174.96 302.43,176.41 302.53,175.26 302.64,177.21 302.74,178.43 302.85,175.78 302.95,176.29 303.06,175.54 303.16,178.15 303.27,175.98 303.37,176.86 303.48,174.84 303.58,176.78 303.69,176.87 303.79,176.67 303.90,174.51 304.00,176.06 304.11,177.21 304.21,177.48 304.32,177.63 304.42,174.35 304.53,178.82 304.63,177.64 304.74,175.74 304.84,175.12 304.95,176.77 305.05,175.72 305.16,175.79 305.26,175.50 305.36,176.80 305.47,174.22 305.57,176.28 305.68,174.44 305.78,178.08 305.89,175.33 305.99,178.38 306.10,178.73 306.20,175.88 306.31,177.65 306.41,175.91 306.52,177.70 306.62,174.24 306.73,176.39 306.83,177.84 306.94,175.93 307.04,175.13 307.15,177.33 307.25,175.64 307.36,173.50 307.46,175.25 307.57,176.22 307.67,176.81 307.78,175.45 307.88,178.20 307.99,180.37 308.09,177.56 308.20,178.04 308.30,174.26 308.41,176.43 308.51,177.86 308.62,178.03 308.72,175.92 308.83,177.78 308.93,177.44 309.03,176.75 309.14,176.59 309.24,176.28 309.35,176.16 309.45,174.69 309.56,174.20 309.66,178.54 309.77,172.96 309.87,176.28 309.98,174.62 310.08,177.34 310.19,176.10 310.29,176.05 310.40,175.92 310.50,175.05 310.61,174.97 310.71,177.09 310.82,175.80 310.92,174.48 311.03,174.48 311.13,175.88 311.24,175.79 311.34,175.70 311.45,176.78 311.55,176.99 311.66,173.08 311.76,175.74 311.87,175.51 311.97,176.81 312.08,174.04 312.18,173.36 312.29,175.83 312.39,174.69 312.50,176.34 312.60,173.24 312.71,174.23 312.81,176.50 312.91,174.03 313.02,175.24 313.12,174.95 313.23,174.94 313.33,176.37 313.44,176.36 313.54,174.85 313.65,175.86 313.75,177.22 313.86,173.39 313.96,176.26 314.07,176.90 314.17,176.92 314.28,175.22 314.38,174.93 314.49,175.68 314.59,174.69 314.70,177.79 314.80,176.22 314.91,176.59 315.01,175.88 315.12,175.31 315.22,178.56 315.33,171.57 315.43,176.96 315.54,175.10 315.64,174.72 315.75,174.87 315.85,175.91 315.96,180.16 316.06,177.81 316.17,175.10 316.27,177.19 316.38,177.37 316.48,179.12 316.58,174.25 316.69,175.53 316.79,177.59 316.90,176.48 317.00,176.36 317.11,177.72 317.21,176.75 317.32,176.12 317.42,175.85 317.53,174.85 317.63,176.58 317.74,177.15 317.84,175.91 317.95,177.39 318.05,178.29 318.16,175.14 318.26,177.08 318.37,176.51 318.47,176.02 318.58,178.40 318.68,175.96 318.79,176.54 318.89,177.35 319.00,176.33 319.10,177.66 319.21,179.77 319.31,176.99 319.42,177.67 319.52,175.43 319.63,176.06 319.73,177.12 319.84,176.11 319.94,174.44 320.05,174.64 320.15,175.85 320.26,175.81 320.36,176.65 320.46,176.50 320.57,175.69 320.67,176.52 320.78,175.88 320.88,177.75 320.99,178.41 321.09,178.29 321.20,176.53 321.30,174.10 321.41,174.18 321.51,176.95 321.62,177.92 321.72,175.02 321.83,175.42 321.93,177.60 322.04,174.60 322.14,175.68 322.25,174.34 322.35,175.80 322.46,175.19 322.56,175.79 322.67,177.51 322.77,176.32 322.88,176.80 322.98,175.05 323.09,177.49 323.19,177.98 323.30,175.10 323.40,174.53 323.51,174.21 323.61,174.49 323.72,178.02 323.82,177.03 323.93,176.93 324.03,176.33 324.13,179.30 324.24,176.34 324.34,175.85 324.45,177.49 324.55,176.05 324.66,174.64 324.76,176.17 324.87,174.62 324.97,174.43 325.08,175.03 325.18,175.23 325.29,176.25 325.39,174.15 325.50,176.58 325.60,176.79 325.71,175.15 325.81,177.07 325.92,175.43 326.02,174.69 326.13,175.83 326.23,175.97 326.34,174.91 326.44,175.25 326.55,178.20 326.65,177.76 326.76,174.25 326.86,175.70 326.97,179.12 327.07,178.10 327.18,176.49 327.28,177.64 327.39,175.72 327.49,176.50 327.60,176.25 327.70,178.66 327.81,176.36 327.91,174.60 328.01,178.19 328.12,175.45 328.22,175.75 328.33,176.04 328.43,176.97 328.54,178.57 328.64,178.08 328.75,175.91 328.85,175.38 328.96,174.87 329.06,174.90 329.17,175.21 329.27,177.04 329.38,178.10 329.48,176.17 329.59,175.61 329.69,176.11 329.80,178.19 329.90,176.88 330.01,178.18 330.11,175.72 330.22,177.24 330.32,176.09 330.43,175.12 330.53,175.41 330.64,173.76 330.74,176.84 330.85,178.14 330.95,173.84 331.06,173.44 331.16,173.33 331.27,174.83 331.37,174.45 331.48,175.15 331.58,176.92 331.68,175.89 331.79,174.45 331.89,175.98 332.00,172.80 332.10,177.23 332.21,175.79 332.31,173.84 332.42,176.36 332.52,177.13 332.63,177.39 332.73,176.73 332.84,173.69 332.94,175.24 333.05,175.04 333.15,176.47 333.26,174.89 333.36,176.03 333.47,177.65 333.57,177.16 333.68,176.16 333.78,174.99 333.89,176.70 333.99,176.01 334.10,174.17 334.20,177.94 334.31,178.49 334.41,175.59 334.52,176.31 334.62,176.72 334.73,176.29 334.83,176.90 334.94,175.95 335.04,177.06 335.15,175.55 335.25,178.19 335.35,177.79 335.46,176.46 335.56,177.14 335.67,175.72 335.77,176.78 335.88,177.29 335.98,176.22 336.09,177.22 336.19,178.45 336.30,177.89 336.40,177.18 336.51,176.77 336.61,175.87 336.72,174.47 336.82,175.23 336.93,173.72 337.03,174.17 337.14,176.18 337.24,173.73 337.35,174.43 337.45,176.88 337.56,175.65 337.66,174.39 337.77,175.48 337.87,174.57 337.98,175.11 338.08,174.83 338.19,176.20 338.29,175.22 338.40,175.99 338.50,174.80 338.61,177.99 338.71,175.25 338.82,174.17 338.92,174.96 339.03,175.85 339.13,175.01 339.23,177.00 339.34,177.04 339.44,176.19 339.55,176.12 339.65,174.43 339.76,176.87 339.86,174.32 339.97,177.98 340.07,176.89 340.18,176.01 340.28,174.39 340.39,176.64 340.49,178.61 340.60,175.36 340.70,175.81 340.81,177.34 340.91,177.46 341.02,177.15 341.12,175.81 341.23,175.01 341.33,177.99 341.44,172.88 341.54,176.00 341.65,176.36 341.75,175.03 341.86,175.76 341.96,172.67 342.07,174.49 342.17,176.29 342.28,176.49 342.38,176.62 342.49,176.49 342.59,175.02 342.70,176.81 342.80,173.57 342.90,175.99 343.01,176.27 343.11,174.83 343.22,178.75 343.32,177.36 343.43,175.12 343.53,175.66 343.64,175.74 343.74,175.30 343.85,176.83 343.95,176.10 344.06,177.68 344.16,178.49 344.27,174.52 344.37,177.51 344.48,177.42 344.58,174.74 344.69,174.97 344.79,177.17 344.90,177.07 345.00,176.43 345.11,177.75 345.21,175.63 345.32,176.02 345.42,176.09 345.53,175.25 345.63,175.03 345.74,173.53 345.84,173.89 345.95,178.18 346.05,174.88 346.16,177.96 346.26,178.43 346.37,175.58 346.47,177.26 346.58,176.95 346.68,175.23 346.78,177.33 346.89,177.74 346.99,175.96 347.10,174.57 347.20,175.49 347.31,178.63 347.41,177.27 347.52,176.92 347.62,173.99 347.73,175.32 347.83,175.40 347.94,175.10 348.04,177.15 348.15,176.23 348.25,176.36 348.36,178.23 348.46,177.02 348.57,176.14 348.67,178.22 348.78,175.42 348.88,175.26 348.99,174.67 349.09,177.19 349.20,175.86 349.30,174.01 349.41,174.99 349.51,176.89 349.62,175.50 349.72,173.91 349.83,176.04 349.93,175.29 350.04,172.35 350.14,175.93 350.25,176.02 350.35,177.19 350.45,176.80 350.56,173.82 350.66,176.03 350.77,177.42 350.87,177.13 350.98,175.80 351.08,174.67 351.19,176.72 351.29,174.87 351.40,176.57 351.50,175.38 351.61,175.20 351.71,175.01 351.82,176.47 351.92,176.29 352.03,175.30 352.13,177.89 352.24,175.97 352.34,175.44 352.45,174.34 352.55,175.76 352.66,176.01 352.76,175.29 352.87,176.54 352.97,175.64 353.08,174.70 353.18,174.97 353.29,176.93 353.39,175.79 353.50,178.22 353.60,174.31 353.71,176.34 353.81,175.41 353.92,177.21 354.02,175.92 354.13,175.14 354.23,174.56 354.33,177.71 354.44,174.58 354.54,175.81 354.65,176.81 354.75,175.04 354.86,175.91 354.96,175.97 355.07,176.78 355.17,175.44 355.28,175.69 355.38,176.04 355.49,177.31 355.59,176.80 355.70,175.62 355.80,174.41 355.91,175.81 356.01,174.10 356.12,175.89 356.22,177.63 356.33,175.31 356.43,177.48 356.54,175.44 356.64,174.58 356.75,176.60 356.85,176.32 356.96,172.88 357.06,175.94 357.17,175.82 357.27,175.09 357.38,176.20 357.48,176.40 357.59,175.80 357.69,179.57 357.80,174.60 357.90,177.90" fill="none" stroke="#0072BD" stroke-width="1.3" stroke-linejoin="round" />
<polyline points="211.20,282.82 211.30,277.15 211.41,270.50 211.51,265.17 211.62,259.49 211.72,253.29 211.83,248.04 211.93,242.97 212.04,238.07 212.14,233.80 212.25,228.46 212.35,224.97 212.46,220.03 212.56,215.77 212.67,211.29 212.77,208.95 212.88,206.73 212.98,204.62 213.09,202.54 213.19,200.16 213.30,198.02 213.40,195.80 213.51,194.69 213.61,193.90 213.72,192.89 213.82,192.28 213.93,190.83 214.03,190.73 214.14,191.03 214.24,187.34 214.35,188.68 214.45,186.70 214.56,184.96 214.66,186.00 214.77,186.03 214.87,183.80 214.97,184.07 215.08,184.99 215.18,185.27 215.29,183.85 215.39,185.23 215.50,183.59 215.60,183.54 215.71,181.39 215.81,180.46 215.92,182.15 216.02,181.66 216.13,182.42 216.23,182.80 216.34,181.21 216.44,179.65 216.55,179.59 216.65,179.28 216.76,180.29 216.86,183.35 216.97,178.27 217.07,177.69 217.18,178.14 217.28,178.07 217.39,177.81 217.49,175.73 217.60,179.11 217.70,177.17 217.81,178.25 217.91,178.48 218.02,179.53 218.12,180.19 218.23,181.24 218.33,179.00 218.44,180.38 218.54,181.62 218.65,181.19 218.75,181.72 218.85,177.98 218.96,180.69 219.06,180.34 219.17,182.28 219.27,182.06 219.38,179.23 219.48,181.18 219.59,180.74 219.69,178.45 219.80,178.24 219.90,180.31 220.01,180.59 220.11,180.80 220.22,181.44 220.32,178.48 220.43,183.17 220.53,181.74 220.64,184.54 220.74,183.66 220.85,181.55 220.95,181.45 221.06,181.86 221.16,182.86 221.27,183.49 221.37,183.45 221.48,183.44 221.58,181.38 221.69,180.86 221.79,182.36 221.90,183.96 222.00,184.88 222.11,183.27 222.21,184.10 222.32,186.41 222.42,182.09 222.52,184.09 222.63,184.69 222.73,185.69 222.84,185.93 222.94,183.55 223.05,185.98 223.15,184.41 223.26,183.56 223.36,181.86 223.47,183.66 223.57,184.85 223.68,185.45 223.78,183.71 223.89,183.54 223.99,185.53 224.10,183.98 224.20,185.25 224.31,187.42 224.41,186.63 224.52,184.12 224.62,183.00 224.73,184.30 224.83,185.52 224.94,186.31 225.04,184.52 225.15,184.94 225.25,187.72 225.36,184.38 225.46,186.28 225.57,184.56 225.67,185.00 225.78,185.01 225.88,185.02 225.99,185.76 226.09,188.33 226.20,188.42 226.30,185.42 226.40,186.47 226.51,189.36 226.61,189.99 226.72,185.84 226.82,183.95 226.93,185.83 227.03,187.41 227.14,186.78 227.24,191.19 227.35,188.76 227.45,185.96 227.56,186.08 227.66,190.19 227.77,185.59 227.87,186.59 227.98,186.26 228.08,187.91 228.19,187.45 228.29,188.97 228.40,186.94 228.50,186.03 228.61,188.51 228.71,186.66 228.82,187.61 228.92,185.74 229.03,185.67 229.13,190.27 229.24,186.29 229.34,185.59 229.45,187.91 229.55,187.78 229.66,187.62 229.76,189.15 229.87,187.99 229.97,185.47 230.07,187.02 230.18,185.71 230.28,186.72 230.39,186.44 230.49,187.86 230.60,186.91 230.70,185.11 230.81,186.11 230.91,187.78 231.02,189.40 231.12,189.52 231.23,188.04 231.33,187.95 231.44,191.51 231.54,188.67 231.65,188.44 231.75,188.66 231.86,190.27 231.96,186.79 232.07,188.44 232.17,191.57 232.28,190.89 232.38,188.74 232.49,188.90 232.59,189.49 232.70,189.86 232.80,190.36 232.91,190.70 233.01,191.78 233.12,189.62 233.22,194.35 233.33,191.67 233.43,188.96 233.54,191.97 233.64,192.41 233.75,188.30 233.85,189.69 233.95,191.37 234.06,191.84 234.16,191.43 234.27,191.63 234.37,191.53 234.48,192.00 234.58,190.08 234.69,191.96 234.79,193.70 234.90,192.79 235.00,191.11 235.11,192.49 235.21,194.82 235.32,189.25 235.42,190.61 235.53,192.14 235.63,192.02 235.74,190.59 235.84,189.50 235.95,192.52 236.05,190.99 236.16,192.51 236.26,191.23 236.37,193.47 236.47,194.33 236.58,191.75 236.68,192.06 236.79,190.83 236.89,192.88 237.00,190.24 237.10,192.23 237.21,190.46 237.31,193.11 237.42,190.51 237.52,192.96 237.62,192.80 237.73,191.85 237.83,195.68 237.94,194.86 238.04,190.77 238.15,195.38 238.25,194.14 238.36,192.67 238.46,191.42 238.57,194.06 238.67,193.32 238.78,195.12 238.88,194.04 238.99,192.20 239.09,193.24 239.20,193.83 239.30,193.32 239.41,194.09 239.51,194.32 239.62,195.01 239.72,195.78 239.83,193.57 239.93,196.17 240.04,193.39 240.14,191.89 240.25,192.72 240.35,191.69 240.46,196.35 240.56,194.65 240.67,196.08 240.77,196.00 240.88,197.40 240.98,197.04 241.09,194.10 241.19,194.46 241.29,193.79 241.40,193.91 241.50,194.57 241.61,196.73 241.71,195.93 241.82,194.80 241.92,194.05 242.03,196.17 242.13,196.25 242.24,196.06 242.34,193.21 242.45,194.51 242.55,195.84 242.66,196.35 242.76,194.73 242.87,197.54 242.97,195.46 243.08,196.03 243.18,195.98 243.29,194.99 243.39,194.67 243.50,191.13 243.60,195.08 243.71,194.34 243.81,196.44 243.92,197.58 244.02,193.68 244.13,192.62 244.23,196.72 244.34,195.26 244.44,193.58 244.55,194.93 244.65,198.57 244.76,193.98 244.86,195.74 244.97,194.71 245.07,196.89 245.17,194.23 245.28,194.04 245.38,196.42 245.49,194.98 245.59,196.78 245.70,196.59 245.80,197.21 245.91,196.61 246.01,196.97 246.12,194.39 246.22,196.23 246.33,197.57 246.43,194.06 246.54,195.25 246.64,194.61 246.75,196.02 246.85,195.02 246.96,196.22 247.06,197.41 247.17,195.80 247.27,195.43 247.38,195.50 247.48,194.64 247.59,198.23 247.69,195.71 247.80,197.15 247.90,196.53 248.01,195.58 248.11,195.92 248.22,196.72 248.32,194.69 248.43,195.76 248.53,194.71 248.64,194.45 248.74,196.78 248.84,198.07 248.95,196.37 249.05,195.17 249.16,196.01 249.26,198.16 249.37,198.79 249.47,197.69 249.58,197.70 249.68,195.58 249.79,196.53 249.89,195.70 250.00,196.91 250.10,194.40 250.21,196.67 250.31,195.89 250.42,197.39 250.52,196.20 250.63,195.41 250.73,196.08 250.84,195.80 250.94,198.48 251.05,197.18 251.15,195.24 251.26,197.31 251.36,197.97 251.47,197.81 251.57,198.22 251.68,197.71 251.78,195.96 251.89,197.40 251.99,198.21 252.10,199.13 252.20,199.55 252.31,194.81 252.41,198.75 252.52,197.98 252.62,198.86 252.72,198.12 252.83,198.94 252.93,198.04 253.04,196.19 253.14,199.22 253.25,197.40 253.35,198.05 253.46,196.83 253.56,198.73 253.67,197.29 253.77,199.18 253.88,200.22 253.98,199.36 254.09,199.06 254.19,199.59 254.30,198.46 254.40,196.46 254.51,199.38 254.61,197.31 254.72,197.92 254.82,199.15 254.93,199.34 255.03,197.56 255.14,197.54 255.24,198.80 255.35,198.14 255.45,198.07 255.56,199.93 255.66,198.04 255.77,197.99 255.87,195.96 255.98,200.18 256.08,199.71 256.19,198.36 256.29,199.35 256.39,199.24 256.50,198.87 256.60,199.39 256.71,198.96 256.81,198.27 256.92,201.19 257.02,198.42 257.13,202.14 257.23,196.95 257.34,198.14 257.44,200.21 257.55,198.09 257.65,199.70 257.76,198.90 257.86,198.39 257.97,199.26 258.07,199.70 258.18,199.14 258.28,200.23 258.39,200.55 258.49,201.31 258.60,202.55 258.70,197.87 258.81,199.03 258.91,202.01 259.02,199.54 259.12,199.66 259.23,202.70 259.33,200.89 259.44,199.86 259.54,197.04 259.65,197.68 259.75,197.56 259.86,198.78 259.96,197.55 260.07,200.45 260.17,197.96 260.27,197.86 260.38,200.59 260.48,198.71 260.59,197.00 260.69,196.54 260.80,197.01 260.90,200.17 261.01,199.10 261.11,199.95 261.22,197.86 261.32,200.87 261.43,201.16 261.53,201.74 261.64,199.74 261.74,199.61 261.85,201.24 261.95,201.71 262.06,201.06 262.16,199.41 262.27,203.18 262.37,201.63 262.48,201.28 262.58,201.39 262.69,200.36 262.79,201.10 262.90,201.75 263.00,200.11 263.11,200.31 263.21,201.77 263.32,201.90 263.42,203.83 263.53,201.87 263.63,203.52 263.74,203.93 263.84,202.58 263.94,204.18 264.05,203.15 264.15,202.77 264.26,201.49 264.36,202.19 264.47,201.58 264.57,199.97 264.68,201.03 264.78,203.77 264.89,204.55 264.99,203.28 265.10,203.07 265.20,204.63 265.31,204.42 265.41,204.38 265.52,203.08 265.62,200.34 265.73,200.12 265.83,203.73 265.94,202.97 266.04,204.26 266.15,204.63 266.25,202.34 266.36,202.30 266.46,203.22 266.57,201.73 266.67,202.83 266.78,201.18 266.88,203.35 266.99,201.66 267.09,202.67 267.20,202.25 267.30,201.33 267.41,203.59 267.51,203.17 267.62,202.24 267.72,202.66 267.82,201.87 267.93,203.44 268.03,204.20 268.14,202.59 268.24,202.05 268.35,203.56 268.45,200.90 268.56,201.43 268.66,201.12 268.77,201.10 268.87,203.29 268.98,199.17 269.08,202.95 269.19,201.67 269.29,201.63 269.40,201.99 269.50,202.31 269.61,203.57 269.71,203.33 269.82,202.66 269.92,201.25 270.03,204.25 270.13,202.31 270.24,202.79 270.34,203.17 270.45,203.95 270.55,203.24 270.66,205.32 270.76,202.95 270.87,202.96 270.97,204.25 271.08,202.66 271.18,203.19 271.29,204.78 271.39,202.85 271.49,204.76 271.60,200.81 271.70,205.37 271.81,205.13 271.91,204.84 272.02,203.73 272.12,202.42 272.23,203.95 272.33,204.42 272.44,201.38 272.54,202.54 272.65,204.25 272.75,204.03 272.86,206.01 272.96,203.96 273.07,201.86 273.17,205.71 273.28,206.16 273.38,203.95 273.49,207.23 273.59,202.28 273.70,206.08 273.80,205.14 273.91,204.37 274.01,202.71 274.12,203.70 274.22,207.05 274.33,206.69 274.43,204.06 274.54,207.22 274.64,204.66 274.75,205.51 274.85,203.40 274.96,202.85 275.06,207.90 275.16,203.87 275.27,203.56 275.37,205.45 275.48,205.01 275.58,205.97 275.69,204.83 275.79,203.76 275.90,202.57 276.00,202.66 276.11,205.04 276.21,205.36 276.32,202.91 276.42,208.02 276.53,206.21 276.63,203.25 276.74,201.26 276.84,205.12 276.95,204.25 277.05,205.99 277.16,204.34 277.26,204.55 277.37,205.30 277.47,203.78 277.58,204.82 277.68,204.00 277.79,205.17 277.89,206.55 278.00,204.80 278.10,203.80 278.21,206.22 278.31,203.46 278.42,204.84 278.52,205.87 278.63,205.37 278.73,205.90 278.84,206.92 278.94,204.84 279.04,204.67 279.15,206.50 279.25,206.19 279.36,206.34 279.46,205.12 279.57,203.89 279.67,206.68 279.78,205.47 279.88,205.92 279.99,205.17 280.09,203.88 280.20,206.68 280.30,208.21 280.41,205.60 280.51,207.42 280.62,203.11 280.72,206.32 280.83,205.56 280.93,204.60 281.04,204.62 281.14,205.63 281.25,204.94 281.35,203.68 281.46,205.39 281.56,202.33 281.67,204.36 281.77,208.21 281.88,203.93 281.98,207.39 282.09,204.70 282.19,202.30 282.30,204.00 282.40,207.16 282.51,206.74 282.61,205.62 282.71,203.75 282.82,206.95 282.92,204.43 283.03,205.46 283.13,206.25 283.24,206.19 283.34,203.67 283.45,208.05 283.55,207.76 283.66,205.03 283.76,204.89 283.87,207.87 283.97,207.43 284.08,207.67 284.18,205.60 284.29,207.21 284.39,204.34 284.50,205.33 284.60,206.05 284.71,205.99 284.81,205.51 284.92,205.02 285.02,205.88 285.13,205.60 285.23,204.81 285.34,206.14 285.44,204.58 285.55,206.40 285.65,207.34 285.76,206.00 285.86,204.16 285.97,204.51 286.07,208.55 286.18,205.89 286.28,206.83 286.39,206.51 286.49,206.59 286.59,206.45 286.70,206.65 286.80,206.16 286.91,205.66 287.01,207.67 287.12,207.77 287.22,207.68 287.33,207.75 287.43,205.42 287.54,207.63 287.64,206.50 287.75,206.40 287.85,205.52 287.96,206.57 288.06,205.41 288.17,206.91 288.27,206.61 288.38,205.63 288.48,208.62 288.59,206.17 288.69,204.59 288.80,206.65 288.90,207.38 289.01,204.55 289.11,206.96 289.22,205.63 289.32,210.77 289.43,207.39 289.53,208.22 289.64,206.92 289.74,205.68 289.85,207.44 289.95,207.72 290.06,211.30 290.16,206.67 290.26,205.95 290.37,207.64 290.47,208.68 290.58,207.38 290.68,206.30 290.79,206.66 290.89,204.75 291.00,208.38 291.10,209.39 291.21,207.06 291.31,206.27 291.42,208.53 291.52,207.94 291.63,208.91 291.73,209.92 291.84,209.20 291.94,210.96 292.05,208.17 292.15,207.66 292.26,207.28 292.36,209.51 292.47,209.21 292.57,210.51 292.68,210.02 292.78,207.00 292.89,204.19 292.99,209.18 293.10,208.31 293.20,206.60 293.31,208.84 293.41,207.26 293.52,208.21 293.62,208.43 293.73,206.75 293.83,208.28 293.94,209.64 294.04,206.89 294.14,207.97 294.25,208.57 294.35,208.83 294.46,206.80 294.56,208.46 294.67,207.13 294.77,206.09 294.88,207.33 294.98,205.99 295.09,209.44 295.19,206.90 295.30,207.20 295.40,205.23 295.51,207.77 295.61,206.56 295.72,207.87 295.82,209.09 295.93,208.84 296.03,208.43 296.14,206.56 296.24,208.64 296.35,207.67 296.45,206.54 296.56,206.12 296.66,206.59 296.77,205.75 296.87,209.41 296.98,208.45 297.08,207.42 297.19,206.54 297.29,207.31 297.40,208.90 297.50,208.39 297.61,210.36 297.71,206.87 297.81,210.33 297.92,207.79 298.02,206.54 298.13,206.90 298.23,210.36 298.34,207.87 298.44,208.63 298.55,208.71 298.65,206.08 298.76,207.90 298.86,210.21 298.97,209.59 299.07,207.19 299.18,207.67 299.28,209.50 299.39,210.28 299.49,208.68 299.60,208.73 299.70,207.16 299.81,208.95 299.91,207.42 300.02,206.98 300.12,210.81 300.23,209.26 300.33,206.51 300.44,209.07 300.54,208.45 300.65,207.26 300.75,209.61 300.86,209.18 300.96,211.14 301.07,208.00 301.17,209.37 301.28,209.27 301.38,212.43 301.48,207.56 301.59,208.22 301.69,210.07 301.80,207.53 301.90,212.43 302.01,209.30 302.11,211.44 302.22,205.55 302.32,212.73 302.43,210.98 302.53,210.30 302.64,208.07 302.74,207.95 302.85,208.65 302.95,209.36 303.06,206.25 303.16,209.96 303.27,208.70 303.37,206.61 303.48,210.56 303.58,209.99 303.69,207.64 303.79,208.77 303.90,211.12 304.00,209.36 304.11,207.02 304.21,209.65 304.32,208.58 304.42,209.37 304.53,210.48 304.63,207.44 304.74,208.33 304.84,207.90 304.95,209.71 305.05,209.23 305.16,209.19 305.26,209.05 305.36,210.09 305.47,210.26 305.57,208.16 305.68,211.62 305.78,210.70 305.89,210.67 305.99,211.05 306.10,212.10 306.20,211.50 306.31,209.41 306.41,210.71 306.52,211.30 306.62,207.88 306.73,211.88 306.83,208.75 306.94,209.51 307.04,211.95 307.15,210.58 307.25,210.42 307.36,208.21 307.46,208.78 307.57,210.34 307.67,211.62 307.78,212.42 307.88,210.24 307.99,211.94 308.09,210.48 308.20,210.40 308.30,209.27 308.41,208.61 308.51,209.52 308.62,209.23 308.72,210.10 308.83,208.15 308.93,208.36 309.03,207.26 309.14,207.61 309.24,210.71 309.35,211.67 309.45,208.85 309.56,208.09 309.66,210.29 309.77,207.45 309.87,209.32 309.98,209.89 310.08,209.31 310.19,211.66 310.29,211.84 310.40,209.76 310.50,210.76 310.61,209.09 310.71,209.02 310.82,212.43 310.92,210.29 311.03,208.42 311.13,212.28 311.24,209.42 311.34,210.93 311.45,212.08 311.55,207.67 311.66,207.62 311.76,209.63 311.87,209.57 311.97,207.01 312.08,207.34 312.18,209.04 312.29,208.27 312.39,209.44 312.50,210.04 312.60,208.51 312.71,209.85 312.81,208.34 312.91,209.60 313.02,210.05 313.12,210.37 313.23,208.94 313.33,208.35 313.44,208.82 313.54,210.67 313.65,208.62 313.75,210.70 313.86,210.83 313.96,209.54 314.07,208.16 314.17,208.66 314.28,208.90 314.38,207.67 314.49,208.60 314.59,210.35 314.70,208.83 314.80,210.24 314.91,209.11 315.01,208.72 315.12,209.61 315.22,211.78 315.33,209.93 315.43,210.57 315.54,210.33 315.64,210.87 315.75,211.79 315.85,212.64 315.96,209.47 316.06,209.48 316.17,209.87 316.27,210.41 316.38,207.70 316.48,209.62 316.58,210.29 316.69,209.07 316.79,210.17 316.90,209.21 317.00,210.13 317.11,209.56 317.21,210.17 317.32,210.94 317.42,209.78 317.53,209.00 317.63,211.78 317.74,211.22 317.84,211.65 317.95,209.14 318.05,210.26 318.16,208.90 318.26,211.15 318.37,209.08 318.47,210.95 318.58,210.89 318.68,209.60 318.79,210.74 318.89,211.19 319.00,209.21 319.10,210.57 319.21,208.95 319.31,207.21 319.42,211.36 319.52,211.34 319.63,212.65 319.73,212.13 319.84,209.93 319.94,210.32 320.05,210.32 320.15,210.05 320.26,211.58 320.36,212.91 320.46,209.46 320.57,210.41 320.67,209.21 320.78,210.45 320.88,209.31 320.99,210.88 321.09,210.33 321.20,210.51 321.30,209.90 321.41,208.86 321.51,209.91 321.62,214.63 321.72,210.68 321.83,210.56 321.93,209.63 322.04,210.43 322.14,211.36 322.25,211.45 322.35,210.84 322.46,211.06 322.56,208.22 322.67,209.57 322.77,210.36 322.88,209.21 322.98,207.55 323.09,210.65 323.19,210.67 323.30,211.11 323.40,212.51 323.51,211.69 323.61,212.20 323.72,209.95 323.82,210.01 323.93,209.36 324.03,211.52 324.13,209.11 324.24,211.83 324.34,210.78 324.45,208.74 324.55,208.81 324.66,209.05 324.76,207.57 324.87,209.05 324.97,210.78 325.08,210.98 325.18,211.68 325.29,209.85 325.39,211.04 325.50,210.87 325.60,211.22 325.71,212.03 325.81,206.53 325.92,208.73 326.02,212.75 326.13,209.40 326.23,210.63 326.34,212.65 326.44,210.15 326.55,209.70 326.65,209.08 326.76,208.34 326.86,210.90 326.97,210.00 327.07,209.05 327.18,209.24 327.28,209.50 327.39,209.85 327.49,208.28 327.60,211.57 327.70,211.84 327.81,207.49 327.91,209.45 328.01,208.70 328.12,209.96 328.22,210.88 328.33,211.09 328.43,210.24 328.54,210.83 328.64,210.13 328.75,210.15 328.85,209.01 328.96,209.26 329.06,208.10 329.17,211.07 329.27,210.22 329.38,208.97 329.48,209.68 329.59,213.26 329.69,209.50 329.80,209.82 329.90,210.71 330.01,210.73 330.11,211.05 330.22,208.56 330.32,209.29 330.43,209.98 330.53,208.71 330.64,208.95 330.74,211.37 330.85,211.70 330.95,211.93 331.06,209.53 331.16,210.81 331.27,209.32 331.37,210.30 331.48,211.32 331.58,212.55 331.68,211.42 331.79,208.14 331.89,212.21 332.00,212.39 332.10,211.93 332.21,209.91 332.31,211.88 332.42,213.47 332.52,212.50 332.63,212.00 332.73,211.85 332.84,210.77 332.94,208.78 333.05,210.33 333.15,211.43 333.26,212.27 333.36,213.31 333.47,211.60 333.57,210.25 333.68,210.84 333.78,212.06 333.89,210.96 333.99,212.23 334.10,212.11 334.20,212.52 334.31,211.99 334.41,212.14 334.52,210.50 334.62,211.70 334.73,211.64 334.83,210.06 334.94,210.46 335.04,209.98 335.15,212.66 335.25,209.67 335.35,211.44 335.46,212.69 335.56,211.48 335.67,212.72 335.77,212.24 335.88,211.38 335.98,209.53 336.09,212.40 336.19,210.27 336.30,211.09 336.40,208.89 336.51,210.54 336.61,209.80 336.72,208.93 336.82,212.02 336.93,211.02 337.03,212.54 337.14,211.51 337.24,209.95 337.35,210.66 337.45,210.10 337.56,211.13 337.66,211.25 337.77,210.47 337.87,211.49 337.98,211.83 338.08,212.41 338.19,210.64 338.29,210.02 338.40,212.09 338.50,211.04 338.61,213.48 338.71,212.32 338.82,210.81 338.92,212.43 339.03,209.96 339.13,211.19 339.23,210.44 339.34,211.56 339.44,212.86 339.55,211.24 339.65,210.38 339.76,212.03 339.86,210.96 339.97,212.40 340.07,211.95 340.18,210.09 340.28,211.91 340.39,213.06 340.49,211.42 340.60,211.98 340.70,212.90 340.81,211.04 340.91,215.87 341.02,211.57 341.12,210.11 341.23,212.07 341.33,214.80 341.44,210.69 341.54,209.41 341.65,212.12 341.75,214.32 341.86,213.71 341.96,213.03 342.07,212.61 342.17,211.29 342.28,212.11 342.38,215.81 342.49,213.29 342.59,212.88 342.70,210.19 342.80,213.07 342.90,214.07 343.01,212.67 343.11,211.76 343.22,214.57 343.32,210.65 343.43,212.31 343.53,210.93 343.64,211.10 343.74,211.10 343.85,210.18 343.95,209.60 344.06,212.23 344.16,211.77 344.27,210.20 344.37,211.25 344.48,212.12 344.58,211.18 344.69,212.24 344.79,211.67 344.90,215.30 345.00,210.66 345.11,208.42 345.21,210.03 345.32,210.29 345.42,210.99 345.53,212.30 345.63,210.62 345.74,211.20 345.84,211.24 345.95,210.84 346.05,211.97 346.16,211.32 346.26,210.62 346.37,210.29 346.47,211.32 346.58,210.56 346.68,211.26 346.78,214.35 346.89,213.81 346.99,211.64 347.10,212.89 347.20,210.59 347.31,213.15 347.41,211.89 347.52,212.21 347.62,212.37 347.73,212.31 347.83,211.60 347.94,211.33 348.04,212.32 348.15,211.34 348.25,210.96 348.36,211.80 348.46,212.67 348.57,212.53 348.67,212.16 348.78,212.01 348.88,211.30 348.99,207.71 349.09,209.95 349.20,211.38 349.30,210.80 349.41,210.80 349.51,210.00 349.62,209.68 349.72,212.77 349.83,208.60 349.93,212.66 350.04,211.51 350.14,212.53 350.25,213.93 350.35,213.98 350.45,209.17 350.56,209.79 350.66,213.07 350.77,213.18 350.87,209.90 350.98,213.23 351.08,211.45 351.19,209.52 351.29,211.24 351.40,210.09 351.50,211.70 351.61,214.37 351.71,212.79 351.82,213.92 351.92,211.27 352.03,213.43 352.13,211.56 352.24,212.41 352.34,212.69 352.45,211.41 352.55,212.72 352.66,213.08 352.76,210.79 352.87,212.19 352.97,214.17 353.08,210.58 353.18,214.20 353.29,212.33 353.39,211.98 353.50,213.04 353.60,213.88 353.71,213.23 353.81,213.33 353.92,214.44 354.02,211.97 354.13,213.99 354.23,214.17 354.33,211.64 354.44,214.42 354.54,215.38 354.65,213.74 354.75,213.50 354.86,213.41 354.96,210.72 355.07,214.21 355.17,211.53 355.28,212.31 355.38,211.76 355.49,213.79 355.59,213.93 355.70,213.84 355.80,213.06 355.91,211.96 356.01,211.07 356.12,215.58 356.22,211.72 356.33,212.60 356.43,212.79 356.54,214.23 356.64,212.58 356.75,215.40 356.85,211.43 356.96,214.31 357.06,213.37 357.17,213.46 357.27,212.28 357.38,214.99 357.48,212.32 357.59,212.95 357.69,211.29 357.80,213.08 357.90,213.69" fill="none" stroke="#D95319" stroke-width="1.3" stroke-linejoin="round" />
<polyline points="211.20,282.38 211.30,280.50 211.41,279.24 211.51,276.87 211.62,274.91 211.72,272.92 211.83,271.29 211.93,268.91 212.04,267.66 212.14,266.86 212.25,265.77 212.35,264.23 212.46,262.76 212.56,261.28 212.67,260.61 212.77,259.77 212.88,259.36 212.98,258.29 213.09,256.97 213.19,255.94 213.30,255.53 213.40,255.03 213.51,254.88 213.61,254.04 213.72,254.06 213.82,254.12 213.93,254.10 214.03,253.94 214.14,253.20 214.24,250.55 214.35,253.01 214.45,252.78 214.56,251.83 214.66,252.24 214.77,250.53 214.87,253.16 214.97,251.91 215.08,252.85 215.18,250.90 215.29,251.85 215.39,252.72 215.50,252.63 215.60,252.11 215.71,250.17 215.81,251.43 215.92,251.71 216.02,253.27 216.13,253.81 216.23,254.06 216.34,252.91 216.44,251.71 216.55,252.49 216.65,251.30 216.76,254.40 216.86,253.09 216.97,253.13 217.07,254.16 217.18,255.72 217.28,254.10 217.39,251.61 217.49,254.96 217.60,251.13 217.70,251.21 217.81,252.59 217.91,252.04 218.02,252.60 218.12,252.33 218.23,250.33 218.33,250.70 218.44,250.78 218.54,251.68 218.65,252.48 218.75,252.26 218.85,254.22 218.96,253.65 219.06,252.52 219.17,254.71 219.27,252.03 219.38,252.38 219.48,252.71 219.59,252.64 219.69,253.42 219.80,249.81 219.90,255.18 220.01,253.66 220.11,255.14 220.22,252.55 220.32,252.08 220.43,250.99 220.53,254.43 220.64,252.58 220.74,254.66 220.85,253.39 220.95,252.42 221.06,255.31 221.16,253.67 221.27,254.32 221.37,253.02 221.48,252.53 221.58,255.76 221.69,253.63 221.79,255.57 221.90,257.14 222.00,255.47 222.11,254.57 222.21,255.33 222.32,255.01 222.42,251.74 222.52,253.52 222.63,252.27 222.73,251.82 222.84,253.51 222.94,250.25 223.05,253.12 223.15,253.43 223.26,254.58 223.36,254.16 223.47,253.23 223.57,253.80 223.68,253.59 223.78,253.51 223.89,255.73 223.99,254.71 224.10,254.03 224.20,254.05 224.31,255.11 224.41,253.40 224.52,254.27 224.62,251.50 224.73,254.04 224.83,252.58 224.94,255.72 225.04,253.49 225.15,251.77 225.25,252.97 225.36,252.26 225.46,252.58 225.57,253.07 225.67,252.03 225.78,252.30 225.88,252.45 225.99,253.79 226.09,253.76 226.20,256.78 226.30,252.99 226.40,254.51 226.51,254.23 226.61,252.36 226.72,253.34 226.82,253.07 226.93,254.60 227.03,252.93 227.14,253.74 227.24,253.72 227.35,254.28 227.45,252.17 227.56,255.65 227.66,253.60 227.77,253.39 227.87,252.58 227.98,253.28 228.08,254.87 228.19,254.06 228.29,252.20 228.40,252.85 228.50,254.88 228.61,253.83 228.71,254.33 228.82,252.23 228.92,254.34 229.03,252.10 229.13,251.41 229.24,253.89 229.34,250.76 229.45,254.11 229.55,254.02 229.66,252.75 229.76,254.34 229.87,253.41 229.97,254.85 230.07,253.65 230.18,253.20 230.28,255.16 230.39,252.60 230.49,252.39 230.60,253.23 230.70,252.24 230.81,252.00 230.91,254.10 231.02,252.17 231.12,252.80 231.23,254.17 231.33,252.59 231.44,254.42 231.54,256.80 231.65,252.42 231.75,252.89 231.86,250.75 231.96,253.17 232.07,251.44 232.17,254.02 232.28,254.38 232.38,253.25 232.49,252.51 232.59,253.08 232.70,251.92 232.80,251.82 232.91,255.09 233.01,254.01 233.12,251.06 233.22,251.92 233.33,255.02 233.43,254.65 233.54,250.87 233.64,254.89 233.75,251.55 233.85,255.86 233.95,253.50 234.06,254.76 234.16,253.18 234.27,251.95 234.37,252.86 234.48,251.97 234.58,252.19 234.69,251.47 234.79,253.21 234.90,256.33 235.00,255.72 235.11,252.62 235.21,252.96 235.32,252.13 235.42,253.86 235.53,254.34 235.63,256.35 235.74,255.61 235.84,254.13 235.95,254.99 236.05,256.31 236.16,252.06 236.26,254.02 236.37,253.86 236.47,254.17 236.58,254.63 236.68,256.06 236.79,253.37 236.89,255.40 237.00,255.76 237.10,252.88 237.21,254.51 237.31,254.03 237.42,257.46 237.52,252.45 237.62,255.98 237.73,256.44 237.83,255.40 237.94,256.26 238.04,256.25 238.15,254.30 238.25,252.93 238.36,254.92 238.46,254.49 238.57,254.51 238.67,254.34 238.78,256.17 238.88,252.25 238.99,256.40 239.09,255.29 239.20,251.52 239.30,254.37 239.41,255.72 239.51,253.91 239.62,251.12 239.72,254.09 239.83,255.53 239.93,253.73 240.04,253.48 240.14,255.05 240.25,253.86 240.35,257.03 240.46,253.40 240.56,253.71 240.67,254.00 240.77,255.13 240.88,252.39 240.98,253.44 241.09,252.74 241.19,255.06 241.29,253.47 241.40,252.56 241.50,252.83 241.61,256.34 241.71,255.18 241.82,256.07 241.92,255.77 242.03,255.24 242.13,253.05 242.24,253.51 242.34,255.87 242.45,254.62 242.55,256.68 242.66,257.45 242.76,258.40 242.87,256.82 242.97,253.01 243.08,255.62 243.18,255.06 243.29,254.36 243.39,258.47 243.50,256.41 243.60,255.93 243.71,254.00 243.81,255.41 243.92,257.97 244.02,257.96 244.13,255.65 244.23,255.41 244.34,257.45 244.44,257.63 244.55,255.52 244.65,257.56 244.76,255.33 244.86,256.29 244.97,256.23 245.07,253.03 245.17,256.94 245.28,257.53 245.38,256.88 245.49,259.42 245.59,255.22 245.70,255.19 245.80,255.98 245.91,256.25 246.01,256.23 246.12,258.00 246.22,256.12 246.33,256.03 246.43,255.06 246.54,255.91 246.64,254.52 246.75,254.62 246.85,258.54 246.96,257.15 247.06,255.03 247.17,256.37 247.27,255.88 247.38,254.59 247.48,256.83 247.59,255.10 247.69,253.13 247.80,255.13 247.90,256.26 248.01,255.00 248.11,255.73 248.22,256.70 248.32,254.17 248.43,255.07 248.53,257.63 248.64,253.45 248.74,256.51 248.84,255.32 248.95,254.87 249.05,255.26 249.16,256.88 249.26,258.69 249.37,256.05 249.47,254.86 249.58,256.57 249.68,255.59 249.79,253.22 249.89,256.19 250.00,249.42 250.10,254.36 250.21,256.46 250.31,254.29 250.42,255.21 250.52,252.95 250.63,256.54 250.73,253.94 250.84,256.60 250.94,254.88 251.05,253.27 251.15,254.96 251.26,253.26 251.36,255.51 251.47,253.64 251.57,255.82 251.68,255.41 251.78,255.05 251.89,257.04 251.99,256.59 252.10,256.10 252.20,253.08 252.31,255.05 252.41,257.12 252.52,257.16 252.62,255.72 252.72,257.23 252.83,255.61 252.93,257.42 253.04,257.18 253.14,254.56 253.25,258.11 253.35,252.24 253.46,256.36 253.56,257.23 253.67,254.41 253.77,253.70 253.88,253.44 253.98,254.45 254.09,256.32 254.19,255.54 254.30,255.34 254.40,254.23 254.51,254.10 254.61,254.37 254.72,254.25 254.82,258.28 254.93,256.04 255.03,253.71 255.14,256.00 255.24,255.63 255.35,256.56 255.45,255.66 255.56,256.55 255.66,258.48 255.77,255.33 255.87,255.27 255.98,257.10 256.08,258.56 256.19,256.15 256.29,257.28 256.39,254.18 256.50,255.95 256.60,257.67 256.71,256.34 256.81,252.79 256.92,255.60 257.02,256.65 257.13,255.73 257.23,257.09 257.34,254.48 257.44,257.83 257.55,255.21 257.65,254.52 257.76,254.44 257.86,255.78 257.97,256.08 258.07,255.51 258.18,255.13 258.28,254.97 258.39,255.54 258.49,255.37 258.60,256.45 258.70,256.98 258.81,254.47 258.91,255.62 259.02,255.15 259.12,253.83 259.23,257.10 259.33,257.02 259.44,256.75 259.54,255.14 259.65,258.44 259.75,257.55 259.86,255.52 259.96,258.26 260.07,255.06 260.17,253.75 260.27,255.24 260.38,257.19 260.48,256.56 260.59,257.49 260.69,256.34 260.80,254.73 260.90,254.58 261.01,259.30 261.11,257.20 261.22,255.53 261.32,256.53 261.43,259.24 261.53,255.46 261.64,255.11 261.74,255.90 261.85,255.97 261.95,254.63 262.06,258.08 262.16,256.24 262.27,254.93 262.37,250.95 262.48,256.79 262.58,255.13 262.69,253.83 262.79,255.10 262.90,255.06 263.00,254.35 263.11,258.59 263.21,255.48 263.32,256.78 263.42,254.13 263.53,255.47 263.63,255.63 263.74,255.64 263.84,257.59 263.94,254.44 264.05,258.05 264.15,256.16 264.26,256.37 264.36,254.44 264.47,255.63 264.57,256.69 264.68,254.48 264.78,253.30 264.89,257.17 264.99,253.68 265.10,256.28 265.20,255.70 265.31,255.62 265.41,256.84 265.52,253.06 265.62,254.36 265.73,254.47 265.83,257.16 265.94,254.43 266.04,256.57 266.15,253.16 266.25,257.44 266.36,254.07 266.46,257.37 266.57,257.18 266.67,254.75 266.78,253.91 266.88,253.52 266.99,255.67 267.09,256.00 267.20,254.00 267.30,256.93 267.41,256.91 267.51,254.71 267.62,254.91 267.72,255.68 267.82,254.07 267.93,258.13 268.03,255.22 268.14,252.72 268.24,256.63 268.35,257.96 268.45,254.45 268.56,255.30 268.66,254.54 268.77,255.67 268.87,257.34 268.98,257.14 269.08,258.22 269.19,253.27 269.29,258.17 269.40,257.29 269.50,257.78 269.61,256.22 269.71,254.98 269.82,257.72 269.92,256.50 270.03,255.97 270.13,253.68 270.24,256.84 270.34,256.03 270.45,253.96 270.55,258.24 270.66,256.30 270.76,256.44 270.87,257.80 270.97,256.62 271.08,256.10 271.18,254.76 271.29,255.21 271.39,257.20 271.49,257.72 271.60,255.09 271.70,258.78 271.81,257.19 271.91,257.91 272.02,258.61 272.12,256.01 272.23,258.32 272.33,257.26 272.44,254.53 272.54,253.86 272.65,258.00 272.75,257.43 272.86,257.29 272.96,257.72 273.07,254.30 273.17,254.81 273.28,255.41 273.38,257.26 273.49,254.98 273.59,255.66 273.70,255.96 273.80,255.27 273.91,253.99 274.01,256.03 274.12,256.62 274.22,257.57 274.33,254.09 274.43,255.54 274.54,259.71 274.64,256.15 274.75,255.34 274.85,258.63 274.96,258.51 275.06,255.07 275.16,257.03 275.27,258.72 275.37,256.92 275.48,256.75 275.58,258.91 275.69,258.48 275.79,257.29 275.90,257.48 276.00,255.00 276.11,255.56 276.21,256.65 276.32,258.27 276.42,257.99 276.53,260.19 276.63,257.19 276.74,257.49 276.84,257.73 276.95,256.06 277.05,255.28 277.16,259.42 277.26,256.69 277.37,256.66 277.47,258.05 277.58,258.05 277.68,254.74 277.79,256.08 277.89,253.97 278.00,257.97 278.10,258.35 278.21,257.10 278.31,255.58 278.42,254.98 278.52,254.07 278.63,257.98 278.73,259.09 278.84,255.70 278.94,255.75 279.04,256.57 279.15,255.35 279.25,258.44 279.36,259.64 279.46,254.67 279.57,256.88 279.67,257.95 279.78,256.36 279.88,254.17 279.99,256.71 280.09,254.76 280.20,257.35 280.30,255.00 280.41,257.55 280.51,256.20 280.62,257.98 280.72,257.03 280.83,257.47 280.93,258.37 281.04,257.81 281.14,257.10 281.25,257.86 281.35,258.34 281.46,256.99 281.56,255.61 281.67,257.54 281.77,258.82 281.88,258.62 281.98,257.40 282.09,255.16 282.19,258.81 282.30,255.90 282.40,257.69 282.51,258.39 282.61,258.43 282.71,256.07 282.82,257.93 282.92,255.34 283.03,254.25 283.13,258.10 283.24,258.53 283.34,259.16 283.45,256.14 283.55,258.20 283.66,257.63 283.76,257.76 283.87,255.04 283.97,256.14 284.08,256.37 284.18,259.45 284.29,258.24 284.39,257.22 284.50,257.23 284.60,256.36 284.71,254.77 284.81,256.10 284.92,255.62 285.02,257.16 285.13,257.48 285.23,257.51 285.34,257.24 285.44,259.23 285.55,257.73 285.65,256.86 285.76,257.75 285.86,257.10 285.97,259.72 286.07,257.94 286.18,257.01 286.28,255.88 286.39,257.48 286.49,257.93 286.59,258.30 286.70,257.60 286.80,258.33 286.91,256.73 287.01,258.47 287.12,256.85 287.22,258.89 287.33,259.79 287.43,259.80 287.54,256.80 287.64,258.89 287.75,258.71 287.85,254.61 287.96,259.25 288.06,258.01 288.17,259.87 288.27,258.83 288.38,257.04 288.48,258.15 288.59,254.94 288.69,258.87 288.80,258.69 288.90,259.53 289.01,257.49 289.11,258.49 289.22,257.62 289.32,258.50 289.43,256.92 289.53,258.41 289.64,257.46 289.74,257.65 289.85,258.42 289.95,257.63 290.06,257.58 290.16,256.71 290.26,259.99 290.37,255.63 290.47,257.54 290.58,257.40 290.68,257.14 290.79,259.75 290.89,256.84 291.00,257.65 291.10,258.69 291.21,257.11 291.31,258.38 291.42,259.44 291.52,256.84 291.63,256.95 291.73,257.58 291.84,258.30 291.94,255.69 292.05,258.53 292.15,257.42 292.26,257.78 292.36,257.79 292.47,257.06 292.57,258.83 292.68,256.93 292.78,257.32 292.89,258.09 292.99,258.44 293.10,259.38 293.20,257.24 293.31,255.19 293.41,258.58 293.52,259.22 293.62,258.70 293.73,257.44 293.83,257.03 293.94,257.27 294.04,257.85 294.14,259.55 294.25,256.57 294.35,258.42 294.46,257.50 294.56,258.10 294.67,258.34 294.77,256.99 294.88,258.10 294.98,255.47 295.09,256.30 295.19,256.93 295.30,258.26 295.40,256.59 295.51,257.05 295.61,256.47 295.72,257.43 295.82,259.14 295.93,258.98 296.03,257.48 296.14,256.32 296.24,257.56 296.35,258.30 296.45,257.93 296.56,256.80 296.66,257.98 296.77,257.94 296.87,256.91 296.98,256.13 297.08,258.64 297.19,257.43 297.29,256.69 297.40,257.43 297.50,255.90 297.61,255.58 297.71,257.58 297.81,253.65 297.92,256.42 298.02,255.05 298.13,256.53 298.23,260.06 298.34,259.31 298.44,257.22 298.55,256.82 298.65,256.73 298.76,260.16 298.86,258.80 298.97,257.26 299.07,256.24 299.18,257.20 299.28,259.95 299.39,258.75 299.49,258.27 299.60,258.37 299.70,256.41 299.81,256.43 299.91,256.47 300.02,259.72 300.12,260.29 300.23,260.70 300.33,259.13 300.44,258.75 300.54,261.03 300.65,258.81 300.75,258.82 300.86,259.30 300.96,258.21 301.07,260.00 301.17,260.29 301.28,257.12 301.38,259.45 301.48,257.34 301.59,259.49 301.69,261.82 301.80,258.10 301.90,260.48 302.01,260.12 302.11,257.98 302.22,261.36 302.32,259.72 302.43,257.95 302.53,256.69 302.64,260.74 302.74,259.11 302.85,260.22 302.95,257.66 303.06,259.61 303.16,256.85 303.27,260.32 303.37,257.53 303.48,256.66 303.58,258.02 303.69,258.74 303.79,259.26 303.90,260.31 304.00,257.31 304.11,257.45 304.21,258.32 304.32,260.27 304.42,259.84 304.53,258.99 304.63,256.65 304.74,256.48 304.84,257.67 304.95,260.93 305.05,261.78 305.16,259.14 305.26,258.64 305.36,257.10 305.47,260.55 305.57,257.94 305.68,260.18 305.78,259.05 305.89,260.57 305.99,260.33 306.10,260.65 306.20,259.99 306.31,261.20 306.41,261.12 306.52,259.65 306.62,261.75 306.73,260.43 306.83,260.67 306.94,259.93 307.04,258.01 307.15,260.45 307.25,256.95 307.36,261.62 307.46,260.28 307.57,257.99 307.67,261.97 307.78,258.85 307.88,257.96 307.99,260.42 308.09,256.51 308.20,255.93 308.30,258.28 308.41,258.38 308.51,257.19 308.62,257.07 308.72,258.77 308.83,258.63 308.93,255.35 309.03,257.78 309.14,258.26 309.24,259.06 309.35,261.72 309.45,258.04 309.56,257.97 309.66,257.98 309.77,258.14 309.87,256.96 309.98,257.60 310.08,257.78 310.19,258.26 310.29,258.49 310.40,258.04 310.50,259.06 310.61,256.48 310.71,257.72 310.82,258.15 310.92,255.56 311.03,257.23 311.13,260.06 311.24,259.73 311.34,258.89 311.45,259.68 311.55,257.24 311.66,258.07 311.76,257.88 311.87,257.63 311.97,258.12 312.08,261.93 312.18,261.20 312.29,260.92 312.39,258.81 312.50,259.08 312.60,256.86 312.71,257.63 312.81,257.76 312.91,260.62 313.02,259.75 313.12,258.09 313.23,261.07 313.33,260.28 313.44,257.02 313.54,256.42 313.65,261.59 313.75,259.16 313.86,260.55 313.96,261.53 314.07,259.72 314.17,257.72 314.28,257.50 314.38,258.02 314.49,256.70 314.59,259.50 314.70,258.79 314.80,256.56 314.91,257.54 315.01,259.77 315.12,260.49 315.22,258.77 315.33,258.43 315.43,258.05 315.54,258.31 315.64,257.85 315.75,258.90 315.85,257.99 315.96,258.78 316.06,259.33 316.17,257.49 316.27,259.02 316.38,258.89 316.48,257.26 316.58,257.72 316.69,255.70 316.79,256.11 316.90,258.88 317.00,258.56 317.11,259.00 317.21,260.23 317.32,256.12 317.42,257.26 317.53,258.91 317.63,255.92 317.74,257.40 317.84,257.27 317.95,259.00 318.05,261.70 318.16,258.05 318.26,259.94 318.37,260.80 318.47,258.15 318.58,258.06 318.68,260.25 318.79,259.06 318.89,258.33 319.00,259.14 319.10,259.79 319.21,256.89 319.31,259.26 319.42,257.15 319.52,258.55 319.63,259.05 319.73,257.07 319.84,259.54 319.94,258.05 320.05,257.75 320.15,256.91 320.26,258.19 320.36,260.13 320.46,260.49 320.57,260.63 320.67,259.70 320.78,258.13 320.88,258.53 320.99,259.16 321.09,258.67 321.20,259.50 321.30,258.63 321.41,258.08 321.51,255.27 321.62,258.59 321.72,258.58 321.83,258.72 321.93,259.65 322.04,257.57 322.14,260.59 322.25,256.14 322.35,260.95 322.46,258.71 322.56,257.24 322.67,258.23 322.77,257.99 322.88,261.42 322.98,258.11 323.09,258.42 323.19,256.88 323.30,258.97 323.40,258.71 323.51,260.88 323.61,257.77 323.72,259.75 323.82,258.00 323.93,255.99 324.03,259.98 324.13,258.34 324.24,259.37 324.34,259.27 324.45,260.94 324.55,258.64 324.66,257.50 324.76,256.18 324.87,255.60 324.97,258.03 325.08,256.48 325.18,257.91 325.29,258.76 325.39,257.89 325.50,255.82 325.60,256.17 325.71,259.78 325.81,256.99 325.92,258.13 326.02,257.34 326.13,257.96 326.23,260.09 326.34,260.46 326.44,258.50 326.55,258.59 326.65,258.39 326.76,260.19 326.86,256.73 326.97,261.90 327.07,256.61 327.18,258.94 327.28,259.53 327.39,256.36 327.49,258.82 327.60,258.29 327.70,258.97 327.81,257.54 327.91,257.58 328.01,256.38 328.12,256.75 328.22,258.08 328.33,258.64 328.43,257.89 328.54,258.63 328.64,258.01 328.75,258.36 328.85,257.12 328.96,257.22 329.06,258.58 329.17,256.86 329.27,260.15 329.38,257.11 329.48,260.16 329.59,257.65 329.69,256.51 329.80,257.02 329.90,258.65 330.01,257.92 330.11,257.99 330.22,258.89 330.32,257.99 330.43,259.13 330.53,259.49 330.64,259.80 330.74,257.87 330.85,259.87 330.95,260.60 331.06,257.66 331.16,259.54 331.27,260.14 331.37,257.31 331.48,258.81 331.58,258.75 331.68,258.98 331.79,257.05 331.89,257.05 332.00,256.70 332.10,258.91 332.21,255.01 332.31,258.97 332.42,259.46 332.52,258.43 332.63,260.22 332.73,258.82 332.84,258.12 332.94,257.50 333.05,255.75 333.15,256.89 333.26,257.90 333.36,257.31 333.47,259.09 333.57,255.76 333.68,257.49 333.78,257.26 333.89,258.78 333.99,259.07 334.10,259.41 334.20,259.21 334.31,258.89 334.41,257.03 334.52,259.12 334.62,257.48 334.73,257.25 334.83,257.69 334.94,256.99 335.04,261.43 335.15,258.06 335.25,258.97 335.35,256.42 335.46,257.87 335.56,258.76 335.67,258.55 335.77,258.09 335.88,255.81 335.98,258.91 336.09,257.89 336.19,258.94 336.30,257.94 336.40,257.73 336.51,257.97 336.61,258.43 336.72,256.07 336.82,256.77 336.93,257.59 337.03,258.97 337.14,257.68 337.24,257.87 337.35,256.74 337.45,257.31 337.56,259.12 337.66,257.40 337.77,255.29 337.87,257.07 337.98,259.50 338.08,258.51 338.19,256.70 338.29,256.29 338.40,260.00 338.50,256.53 338.61,255.43 338.71,255.69 338.82,259.41 338.92,257.53 339.03,255.60 339.13,256.16 339.23,257.84 339.34,258.46 339.44,257.21 339.55,256.47 339.65,258.52 339.76,257.24 339.86,255.53 339.97,255.53 340.07,256.88 340.18,255.13 340.28,257.24 340.39,258.06 340.49,258.18 340.60,258.69 340.70,257.91 340.81,257.49 340.91,254.04 341.02,255.62 341.12,253.98 341.23,258.47 341.33,256.25 341.44,257.75 341.54,259.14 341.65,256.75 341.75,258.55 341.86,256.60 341.96,254.22 342.07,257.63 342.17,257.65 342.28,258.51 342.38,259.54 342.49,257.83 342.59,258.61 342.70,257.36 342.80,257.91 342.90,256.86 343.01,256.82 343.11,256.05 343.22,259.20 343.32,258.70 343.43,255.91 343.53,256.54 343.64,258.90 343.74,254.55 343.85,261.79 343.95,258.46 344.06,258.47 344.16,257.46 344.27,259.69 344.37,258.09 344.48,257.94 344.58,256.78 344.69,261.02 344.79,259.67 344.90,259.68 345.00,257.66 345.11,256.41 345.21,256.67 345.32,259.75 345.42,258.65 345.53,259.13 345.63,258.80 345.74,259.47 345.84,258.15 345.95,258.81 346.05,257.98 346.16,259.14 346.26,255.45 346.37,260.96 346.47,259.51 346.58,259.72 346.68,258.55 346.78,257.42 346.89,258.77 346.99,254.48 347.10,257.79 347.20,256.50 347.31,258.54 347.41,259.37 347.52,254.92 347.62,259.40 347.73,260.16 347.83,259.15 347.94,257.98 348.04,256.40 348.15,258.63 348.25,258.52 348.36,257.75 348.46,257.19 348.57,259.41 348.67,257.82 348.78,258.87 348.88,257.41 348.99,257.51 349.09,256.96 349.20,255.58 349.30,258.80 349.41,259.19 349.51,257.80 349.62,258.02 349.72,258.13 349.83,257.00 349.93,257.79 350.04,257.02 350.14,258.22 350.25,258.35 350.35,259.21 350.45,257.24 350.56,258.31 350.66,256.66 350.77,257.78 350.87,259.58 350.98,258.70 351.08,259.03 351.19,258.87 351.29,260.37 351.40,258.53 351.50,258.77 351.61,260.79 351.71,258.89 351.82,259.15 351.92,261.20 352.03,261.42 352.13,259.61 352.24,258.87 352.34,259.51 352.45,262.16 352.55,261.17 352.66,258.81 352.76,260.91 352.87,258.39 352.97,258.57 353.08,261.02 353.18,259.33 353.29,258.86 353.39,259.21 353.50,260.55 353.60,260.18 353.71,260.07 353.81,258.08 353.92,259.48 354.02,258.60 354.13,259.96 354.23,259.47 354.33,258.91 354.44,260.24 354.54,261.00 354.65,259.33 354.75,260.35 354.86,260.54 354.96,261.00 355.07,262.00 355.17,260.15 355.28,261.57 355.38,261.29 355.49,260.52 355.59,261.51 355.70,259.14 355.80,258.88 355.91,261.65 356.01,260.40 356.12,260.13 356.22,260.17 356.33,259.82 356.43,259.39 356.54,260.46 356.64,258.88 356.75,262.22 356.85,260.95 356.96,258.44 357.06,260.12 357.17,259.09 357.27,258.15 357.38,257.54 357.48,261.33 357.59,260.74 357.69,260.64 357.80,260.61 357.90,259.31" fill="none" stroke="#EDB120" stroke-width="1.3" stroke-linejoin="round" />
<text x="212.20" y="292.20" font-size="8.6" text-anchor="middle" textLength="4.30" lengthAdjust="spacingAndGlyphs">0</text>
<text x="248.88" y="292.20" font-size="8.6" text-anchor="middle" textLength="8.61" lengthAdjust="spacingAndGlyphs">50</text>
<text x="285.55" y="292.20" font-size="8.6" text-anchor="middle" textLength="12.91" lengthAdjust="spacingAndGlyphs">100</text>
<text x="322.23" y="292.20" font-size="8.6" text-anchor="middle" textLength="12.91" lengthAdjust="spacingAndGlyphs">150</text>
<text x="358.90" y="292.20" font-size="8.6" text-anchor="middle" textLength="12.91" lengthAdjust="spacingAndGlyphs">200</text>
<text x="209.80" y="285.65" font-size="8.6" text-anchor="end" textLength="4.30" lengthAdjust="spacingAndGlyphs">0</text>
<text x="209.80" y="263.35" font-size="8.6" text-anchor="end" textLength="10.76" lengthAdjust="spacingAndGlyphs">0.5</text>
<text x="209.80" y="241.05" font-size="8.6" text-anchor="end" textLength="4.30" lengthAdjust="spacingAndGlyphs">1</text>
<text x="209.80" y="218.75" font-size="8.6" text-anchor="end" textLength="10.76" lengthAdjust="spacingAndGlyphs">1.5</text>
<text x="209.80" y="196.45" font-size="8.6" text-anchor="end" textLength="4.30" lengthAdjust="spacingAndGlyphs">2</text>
<text x="209.80" y="174.15" font-size="8.6" text-anchor="end" textLength="10.76" lengthAdjust="spacingAndGlyphs">2.5</text>
<text x="288.20" y="299.90" font-size="9.9" text-anchor="middle" textLength="28.80" lengthAdjust="spacingAndGlyphs">Time (s)</text>
<text x="197.30" y="226.10" font-size="9.2" text-anchor="middle" textLength="40.00" lengthAdjust="spacingAndGlyphs" transform="rotate(-90 197.30 226.10)">Monomers</text>
<path d="M384.20 284.50v-2.0M384.20 166.60v2.0M410.02 284.50v-2.0M410.02 166.60v2.0M435.85 284.50v-2.0M435.85 166.60v2.0M461.67 284.50v-2.0M461.67 166.60v2.0M487.50 284.50v-2.0M487.50 166.60v2.0M513.32 284.50v-2.0M513.32 166.60v2.0M384.20 284.50h2.0M531.40 284.50h-2.0M384.20 255.03h2.0M531.40 255.03h-2.0M384.20 225.55h2.0M531.40 225.55h-2.0M384.20 196.07h2.0M531.40 196.07h-2.0M384.20 166.60h2.0M531.40 166.60h-2.0" fill="none" stroke="#333333" stroke-width="1"/>
<path d="M384.20 166.60V284.50H531.40V166.60H384.20" fill="none" stroke="#333333" stroke-width="1.2" stroke-linecap="square"/>
<path d="M389.36 189.77V202.74M387.86 189.77h3.0M387.86 202.74h3.0M394.53 223.02V228.91M393.03 223.02h3.0M393.03 228.91h3.0M399.69 230.97V236.87M398.19 230.97h3.0M398.19 236.87h3.0M404.86 231.68V237.58M403.36 231.68h3.0M403.36 237.58h3.0M410.02 225.31V231.21M408.52 225.31h3.0M408.52 231.21h3.0M415.19 224.19V230.09M413.69 224.19h3.0M413.69 230.09h3.0M420.35 228.67V234.57M418.85 228.67h3.0M418.85 234.57h3.0M425.52 230.97V236.87M424.02 230.97h3.0M424.02 236.87h3.0M430.68 231.68V237.58M429.18 231.68h3.0M429.18 237.58h3.0M435.85 229.38V235.28M434.35 229.38h3.0M434.35 235.28h3.0M441.01 231.68V237.58M439.51 231.68h3.0M439.51 237.58h3.0M446.18 233.27V239.17M444.68 233.27h3.0M444.68 239.17h3.0M451.34 241.29V247.18M449.84 241.29h3.0M449.84 247.18h3.0M456.51 242.59V248.48M455.01 242.59h3.0M455.01 248.48h3.0M461.67 248.60V254.49M460.17 248.60h3.0M460.17 254.49h3.0M466.84 257.68V260.98M465.34 257.68h3.0M465.34 260.98h3.0M472.00 255.67V258.97M470.50 255.67h3.0M470.50 258.97h3.0M477.17 256.38V259.68M475.67 256.38h3.0M475.67 259.68h3.0M482.33 262.16V265.46M480.83 262.16h3.0M480.83 265.46h3.0M487.50 265.58V268.88M486.00 265.58h3.0M486.00 268.88h3.0M492.66 269.94V273.24M491.16 269.94h3.0M491.16 273.24h3.0M497.83 270.76V274.07M496.33 270.76h3.0M496.33 274.07h3.0" fill="none" stroke="#0072BD" stroke-width="0.9"/>
<circle cx="389.36" cy="196.25" r="2.0" fill="#0072BD"/>
<circle cx="394.53" cy="225.96" r="2.0" fill="#0072BD"/>
<circle cx="399.69" cy="233.92" r="2.0" fill="#0072BD"/>
<circle cx="404.86" cy="234.63" r="2.0" fill="#0072BD"/>
<circle cx="410.02" cy="228.26" r="2.0" fill="#0072BD"/>
<circle cx="415.19" cy="227.14" r="2.0" fill="#0072BD"/>
<circle cx="420.35" cy="231.62" r="2.0" fill="#0072BD"/>
<circle cx="425.52" cy="233.92" r="2.0" fill="#0072BD"/>
<circle cx="430.68" cy="234.63" r="2.0" fill="#0072BD"/>
<circle cx="435.85" cy="232.33" r="2.0" fill="#0072BD"/>
<circle cx="441.01" cy="234.63" r="2.0" fill="#0072BD"/>
<circle cx="446.18" cy="236.22" r="2.0" fill="#0072BD"/>
<circle cx="451.34" cy="244.24" r="2.0" fill="#0072BD"/>
<circle cx="456.51" cy="245.53" r="2.0" fill="#0072BD"/>
<circle cx="461.67" cy="251.55" r="2.0" fill="#0072BD"/>
<circle cx="466.84" cy="259.33" r="2.0" fill="#0072BD"/>
<circle cx="472.00" cy="257.32" r="2.0" fill="#0072BD"/>
<circle cx="477.17" cy="258.03" r="2.0" fill="#0072BD"/>
<circle cx="482.33" cy="263.81" r="2.0" fill="#0072BD"/>
<circle cx="487.50" cy="267.23" r="2.0" fill="#0072BD"/>
<circle cx="492.66" cy="271.59" r="2.0" fill="#0072BD"/>
<circle cx="497.83" cy="272.42" r="2.0" fill="#0072BD"/>
<circle cx="502.99" cy="279.49" r="2.0" fill="#0072BD"/>
<circle cx="508.16" cy="280.02" r="2.0" fill="#0072BD"/>
<path d="M389.36 192.54V205.51M387.86 192.54h3.0M387.86 205.51h3.0M394.53 225.31V231.21M393.03 225.31h3.0M393.03 231.21h3.0M399.69 226.38V232.27M398.19 226.38h3.0M398.19 232.27h3.0M404.86 227.61V233.51M403.36 227.61h3.0M403.36 233.51h3.0M410.02 227.08V232.98M408.52 227.08h3.0M408.52 232.98h3.0M415.19 229.38V235.28M413.69 229.38h3.0M413.69 235.28h3.0M420.35 229.38V235.28M418.85 229.38h3.0M418.85 235.28h3.0M425.52 224.19V230.09M424.02 224.19h3.0M424.02 230.09h3.0M430.68 226.02V231.92M429.18 226.02h3.0M429.18 231.92h3.0M435.85 230.32V236.22M434.35 230.32h3.0M434.35 236.22h3.0M441.01 232.21V238.11M439.51 232.21h3.0M439.51 238.11h3.0M446.18 233.98V239.87M444.68 233.98h3.0M444.68 239.87h3.0M451.34 239.17V245.06M449.84 239.17h3.0M449.84 245.06h3.0M456.51 240.76V246.65M455.01 240.76h3.0M455.01 246.65h3.0M461.67 243.12V249.01M460.17 243.12h3.0M460.17 249.01h3.0M466.84 252.96V256.26M465.34 252.96h3.0M465.34 256.26h3.0M472.00 255.08V258.39M470.50 255.08h3.0M470.50 258.39h3.0M477.17 255.67V258.97M475.67 255.67h3.0M475.67 258.97h3.0M482.33 262.16V265.46M480.83 262.16h3.0M480.83 265.46h3.0M487.50 258.27V261.57M486.00 258.27h3.0M486.00 261.57h3.0M492.66 266.58V269.88M491.16 266.58h3.0M491.16 269.88h3.0M497.83 273.95V277.25M496.33 273.95h3.0M496.33 277.25h3.0" fill="none" stroke="#D95319" stroke-width="0.9"/>
<circle cx="389.36" cy="199.02" r="2.0" fill="#D95319"/>
<circle cx="394.53" cy="228.26" r="2.0" fill="#D95319"/>
<circle cx="399.69" cy="229.32" r="2.0" fill="#D95319"/>
<circle cx="404.86" cy="230.56" r="2.0" fill="#D95319"/>
<circle cx="410.02" cy="230.03" r="2.0" fill="#D95319"/>
<circle cx="415.19" cy="232.33" r="2.0" fill="#D95319"/>
<circle cx="420.35" cy="232.33" r="2.0" fill="#D95319"/>
<circle cx="425.52" cy="227.14" r="2.0" fill="#D95319"/>
<circle cx="430.68" cy="228.97" r="2.0" fill="#D95319"/>
<circle cx="435.85" cy="233.27" r="2.0" fill="#D95319"/>
<circle cx="441.01" cy="235.16" r="2.0" fill="#D95319"/>
<circle cx="446.18" cy="236.93" r="2.0" fill="#D95319"/>
<circle cx="451.34" cy="242.11" r="2.0" fill="#D95319"/>
<circle cx="456.51" cy="243.71" r="2.0" fill="#D95319"/>
<circle cx="461.67" cy="246.06" r="2.0" fill="#D95319"/>
<circle cx="466.84" cy="254.61" r="2.0" fill="#D95319"/>
<circle cx="472.00" cy="256.73" r="2.0" fill="#D95319"/>
<circle cx="477.17" cy="257.32" r="2.0" fill="#D95319"/>
<circle cx="482.33" cy="263.81" r="2.0" fill="#D95319"/>
<circle cx="487.50" cy="259.92" r="2.0" fill="#D95319"/>
<circle cx="492.66" cy="268.23" r="2.0" fill="#D95319"/>
<circle cx="497.83" cy="275.60" r="2.0" fill="#D95319"/>
<path d="M389.36 243.82V250.90M387.86 243.82h3.0M387.86 250.90h3.0" fill="none" stroke="#EDB120" stroke-width="0.9"/>
<circle cx="389.36" cy="247.36" r="2.0" fill="#EDB120"/>
<circle cx="394.53" cy="268.52" r="2.0" fill="#EDB120"/>
<circle cx="399.69" cy="268.52" r="2.0" fill="#EDB120"/>
<circle cx="404.86" cy="273.42" r="2.0" fill="#EDB120"/>
<circle cx="410.02" cy="272.77" r="2.0" fill="#EDB120"/>
<circle cx="415.19" cy="278.31" r="2.0" fill="#EDB120"/>
<text x="385.20" y="294.20" font-size="8.6" text-anchor="middle" textLength="4.30" lengthAdjust="spacingAndGlyphs">0</text>
<text x="411.02" y="294.20" font-size="8.6" text-anchor="middle" textLength="10.76" lengthAdjust="spacingAndGlyphs">0.5</text>
<text x="436.85" y="294.20" font-size="8.6" text-anchor="middle" textLength="4.30" lengthAdjust="spacingAndGlyphs">1</text>
<text x="462.67" y="294.20" font-size="8.6" text-anchor="middle" textLength="10.76" lengthAdjust="spacingAndGlyphs">1.5</text>
<text x="488.50" y="294.20" font-size="8.6" text-anchor="middle" textLength="4.30" lengthAdjust="spacingAndGlyphs">2</text>
<text x="514.32" y="294.20" font-size="8.6" text-anchor="middle" textLength="10.76" lengthAdjust="spacingAndGlyphs">2.5</text>
<text x="383.00" y="287.55" font-size="8.6" text-anchor="end" textLength="4.30" lengthAdjust="spacingAndGlyphs">0</text>
<text x="383.00" y="258.07" font-size="8.6" text-anchor="end" textLength="4.30" lengthAdjust="spacingAndGlyphs">5</text>
<text x="383.00" y="228.60" font-size="8.6" text-anchor="end" textLength="8.61" lengthAdjust="spacingAndGlyphs">10</text>
<text x="383.00" y="199.12" font-size="8.6" text-anchor="end" textLength="8.61" lengthAdjust="spacingAndGlyphs">15</text>
<text x="383.00" y="169.65" font-size="8.6" text-anchor="end" textLength="8.61" lengthAdjust="spacingAndGlyphs">20</text>
<text x="466.30" y="303.10" font-size="9.9" text-anchor="middle" textLength="58.80" lengthAdjust="spacingAndGlyphs">Monomer steps</text>
<text x="369.10" y="225.20" font-size="8.3" text-anchor="middle" transform="rotate(-90 369.10 225.20)">Average rate (s<tspan dy="-3.2" font-size="6">-1</tspan><tspan dy="3.2">)</tspan></text>
<path d="M554.00 284.20v-2.0M575.25 284.20v-2.0M596.50 284.20v-2.0M617.75 284.20v-2.0M639.00 284.20v-2.0M660.25 284.20v-2.0M681.50 284.20v-2.0M554.00 284.20h2.0M554.00 263.04h2.0M554.00 241.88h2.0M554.00 220.72h2.0M554.00 199.56h2.0M554.00 178.40h2.0" fill="none" stroke="#333333" stroke-width="1"/>
<path d="M554.00 178.40V284.20H681.50" fill="none" stroke="#333333" stroke-width="1.2" stroke-linecap="square"/>
<polyline points="575.25,177.55 596.50,181.79 617.75,186.23 639.00,182.95" fill="none" stroke="#0072BD" stroke-width="1.2" stroke-linejoin="round" stroke-dasharray="1.2 3.5"/>
<polyline points="575.25,184.54 596.50,188.66 617.75,187.92 639.00,185.91" fill="none" stroke="#D95319" stroke-width="1.2" stroke-linejoin="round" stroke-dasharray="1.2 3.5"/>
<polyline points="575.25,266.53 596.50,268.01 617.75,269.60 639.00,267.48" fill="none" stroke="#EDB120" stroke-width="1.2" stroke-linejoin="round" stroke-dasharray="1.2 3.5"/>
<path d="M575.25 171.21V183.90M573.75 171.21h3.0M573.75 183.90h3.0M596.50 180.52V183.06M595.00 180.52h3.0M595.00 183.06h3.0M617.75 185.17V187.29M616.25 185.17h3.0M616.25 187.29h3.0M639.00 181.36V184.54M637.50 181.36h3.0M637.50 184.54h3.0" fill="none" stroke="#0072BD" stroke-width="0.9"/>
<rect x="573.50" y="175.80" width="3.50" height="3.50" fill="#0072BD"/>
<rect x="594.75" y="180.04" width="3.50" height="3.50" fill="#0072BD"/>
<rect x="616.00" y="184.48" width="3.50" height="3.50" fill="#0072BD"/>
<rect x="637.25" y="181.20" width="3.50" height="3.50" fill="#0072BD"/>
<path d="M575.25 182.42V186.65M573.75 182.42h3.0M573.75 186.65h3.0M596.50 187.60V189.72M595.00 187.60h3.0M595.00 189.72h3.0M617.75 186.86V188.98M616.25 186.86h3.0M616.25 188.98h3.0M639.00 184.32V187.50M637.50 184.32h3.0M637.50 187.50h3.0" fill="none" stroke="#D95319" stroke-width="0.9"/>
<rect x="573.50" y="182.79" width="3.50" height="3.50" fill="#D95319"/>
<rect x="594.75" y="186.91" width="3.50" height="3.50" fill="#D95319"/>
<rect x="616.00" y="186.17" width="3.50" height="3.50" fill="#D95319"/>
<rect x="637.25" y="184.16" width="3.50" height="3.50" fill="#D95319"/>
<path d="M575.25 265.69V267.38M573.75 265.69h3.0M573.75 267.38h3.0M596.50 267.17V268.86M595.00 267.17h3.0M595.00 268.86h3.0M617.75 268.75V270.45M616.25 268.75h3.0M616.25 270.45h3.0M639.00 262.19V272.77M637.50 262.19h3.0M637.50 272.77h3.0" fill="none" stroke="#EDB120" stroke-width="0.9"/>
<rect x="573.50" y="264.78" width="3.50" height="3.50" fill="#EDB120"/>
<rect x="594.75" y="266.26" width="3.50" height="3.50" fill="#EDB120"/>
<rect x="616.00" y="267.85" width="3.50" height="3.50" fill="#EDB120"/>
<rect x="637.25" y="265.73" width="3.50" height="3.50" fill="#EDB120"/>
<path d="M554.00 170.70V178.40" stroke="#333333" stroke-width="1.2"/>
<text x="555.00" y="293.80" font-size="8.6" text-anchor="middle" textLength="4.30" lengthAdjust="spacingAndGlyphs">0</text>
<text x="576.25" y="293.80" font-size="8.6" text-anchor="middle" textLength="4.30" lengthAdjust="spacingAndGlyphs">1</text>
<text x="597.50" y="293.80" font-size="8.6" text-anchor="middle" textLength="4.30" lengthAdjust="spacingAndGlyphs">2</text>
<text x="618.75" y="293.80" font-size="8.6" text-anchor="middle" textLength="4.30" lengthAdjust="spacingAndGlyphs">3</text>
<text x="640.00" y="293.80" font-size="8.6" text-anchor="middle" textLength="4.30" lengthAdjust="spacingAndGlyphs">4</text>
<text x="661.25" y="293.80" font-size="8.6" text-anchor="middle" textLength="4.30" lengthAdjust="spacingAndGlyphs">5</text>
<text x="682.50" y="293.80" font-size="8.6" text-anchor="middle" textLength="4.30" lengthAdjust="spacingAndGlyphs">6</text>
<text x="553.30" y="287.25" font-size="8.6" text-anchor="end" textLength="4.30" lengthAdjust="spacingAndGlyphs">0</text>
<text x="553.30" y="266.09" font-size="8.6" text-anchor="end" textLength="10.76" lengthAdjust="spacingAndGlyphs">0.2</text>
<text x="553.30" y="244.93" font-size="8.6" text-anchor="end" textLength="10.76" lengthAdjust="spacingAndGlyphs">0.4</text>
<text x="553.30" y="223.77" font-size="8.6" text-anchor="end" textLength="10.76" lengthAdjust="spacingAndGlyphs">0.6</text>
<text x="553.30" y="202.61" font-size="8.6" text-anchor="end" textLength="10.76" lengthAdjust="spacingAndGlyphs">0.8</text>
<text x="553.30" y="181.45" font-size="8.6" text-anchor="end" textLength="4.30" lengthAdjust="spacingAndGlyphs">1</text>
<text x="629.70" y="302.60" font-size="9" text-anchor="middle" textLength="19.60" lengthAdjust="spacingAndGlyphs">steps</text>
<text x="541.80" y="226.50" font-size="8.6" text-anchor="middle" transform="rotate(-90 541.80 226.50)">Association rate (s<tspan dy="-3.2" font-size="6">-1</tspan><tspan dy="3.2">)</tspan></text>
</svg></body></html>
